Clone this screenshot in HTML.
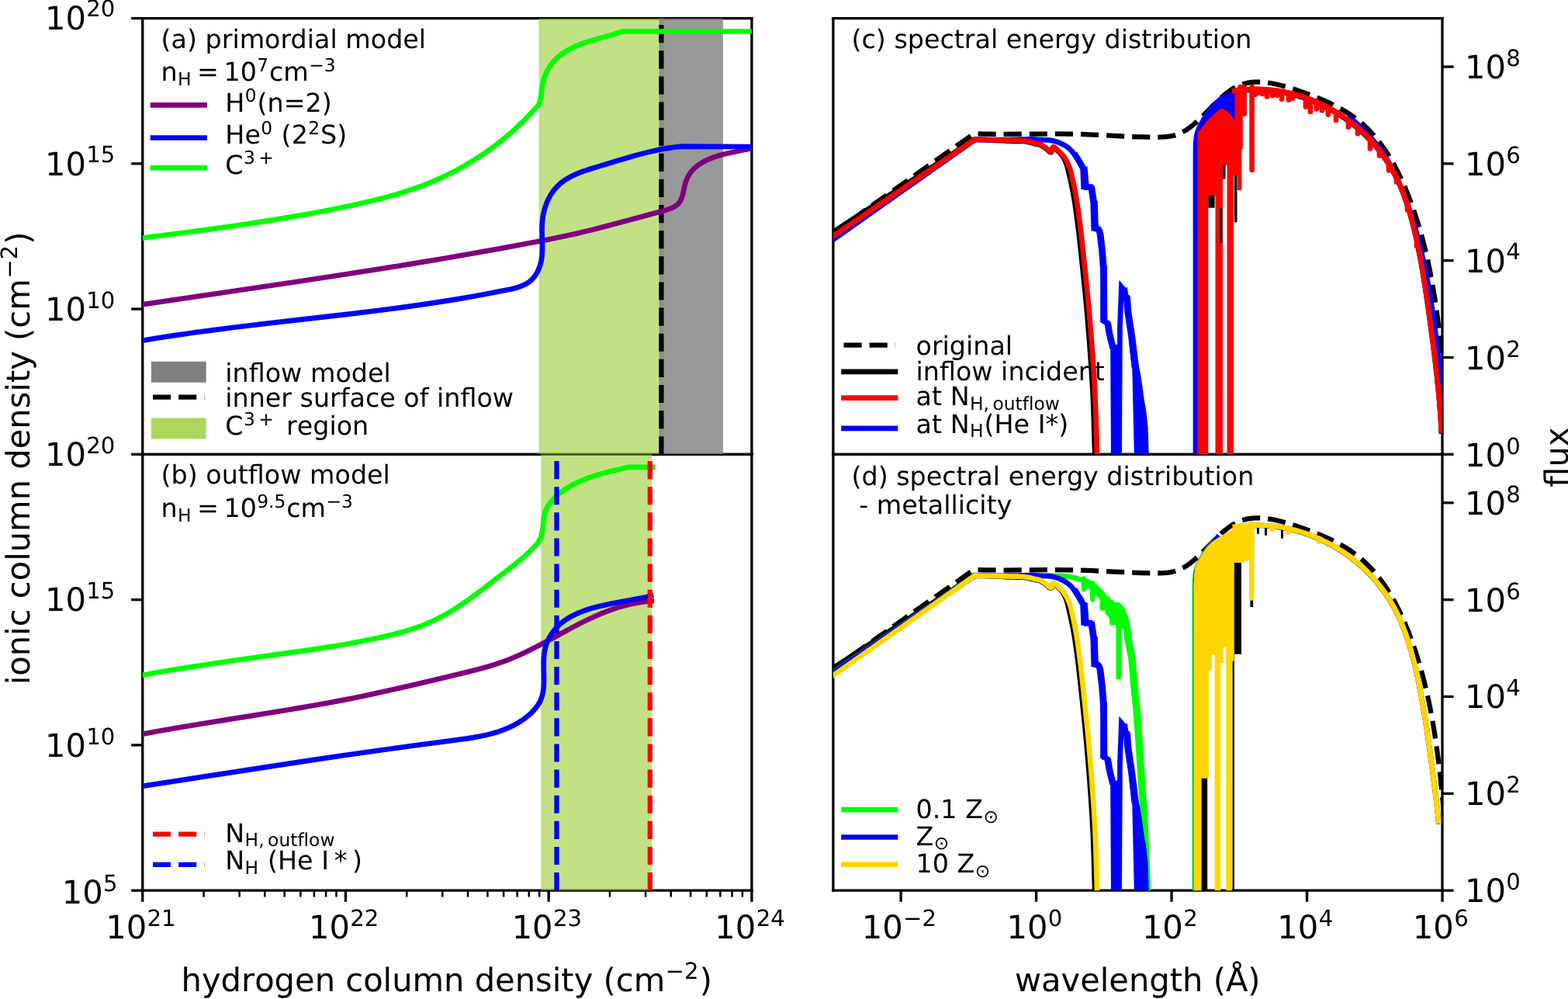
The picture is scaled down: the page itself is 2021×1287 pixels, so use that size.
<!DOCTYPE html>
<html><head><meta charset="utf-8"><title>figure</title>
<style>html,body{margin:0;padding:0;background:#fff;overflow:hidden;width:2021px;height:1287px}svg{display:block;text-rendering:geometricPrecision}</style>
</head><body>
<svg width="2021" height="1287" viewBox="0 0 2021 1287" version="1.1">
 
 <defs>
  <style type="text/css">*{stroke-linejoin: round; stroke-linecap: butt}</style>
 </defs>
 <g id="figure_1">
  <g id="patch_1">
   <path d="M 0 1287 
L 2021 1287 
L 2021 0 
L 0 0 
z
" style="fill: #ffffff"/>
  </g>
  <g id="axes_1">
   <g id="patch_2">
    <path d="M 183.75 585.3 
L 968.9 585.3 
L 968.9 23.6 
L 183.75 23.6 
z
" style="fill: #ffffff"/>
   </g>
   <g id="matplotlib.axis_1">
    <g id="xtick_1"/>
    <g id="xtick_2"/>
    <g id="xtick_3"/>
    <g id="xtick_4"/>
    <g id="xtick_5"/>
    <g id="xtick_6"/>
    <g id="xtick_7"/>
    <g id="xtick_8"/>
    <g id="xtick_9"/>
    <g id="xtick_10"/>
    <g id="xtick_11"/>
    <g id="xtick_12"/>
    <g id="xtick_13"/>
    <g id="xtick_14"/>
    <g id="xtick_15"/>
    <g id="xtick_16"/>
    <g id="xtick_17"/>
    <g id="xtick_18"/>
    <g id="xtick_19"/>
    <g id="xtick_20"/>
    <g id="xtick_21"/>
    <g id="xtick_22"/>
    <g id="xtick_23"/>
    <g id="xtick_24"/>
    <g id="xtick_25"/>
    <g id="xtick_26"/>
    <g id="xtick_27"/>
    <g id="xtick_28"/>
   </g>
   <g id="matplotlib.axis_2">
    <g id="ytick_1">
     <g id="line2d_1">
      <defs>
       <path id="m0d5c01f508" d="M 0 0 
L -14.583333 0 
" style="stroke: #000000; stroke-width: 3.333333"/>
      </defs>
      <g>
       <use href="#m0d5c01f508" x="183.75" y="398.066667" style="stroke: #000000; stroke-width: 3.333333"/>
      </g>
     </g>
    </g>
    <g id="ytick_2">
     <g id="line2d_2">
      <g>
       <use href="#m0d5c01f508" x="183.75" y="210.833333" style="stroke: #000000; stroke-width: 3.333333"/>
      </g>
     </g>
    </g>
    <g id="ytick_3">
     <g id="line2d_3">
      <g>
       <use href="#m0d5c01f508" x="183.75" y="23.6" style="stroke: #000000; stroke-width: 3.333333"/>
      </g>
     </g>
    </g>
   </g>
   <g id="patch_3">
    <path d="M 183.75 585.3 
L 183.75 23.6 
" style="fill: none; stroke: #000000; stroke-width: 3.333333; stroke-linejoin: miter; stroke-linecap: square"/>
   </g>
   <g id="patch_4">
    <path d="M 968.9 585.3 
L 968.9 23.6 
" style="fill: none; stroke: #000000; stroke-width: 3.333333; stroke-linejoin: miter; stroke-linecap: square"/>
   </g>
   <g id="patch_5">
    <path d="M 183.75 585.3 
L 968.9 585.3 
" style="fill: none; stroke: #000000; stroke-width: 3.333333; stroke-linejoin: miter; stroke-linecap: square"/>
   </g>
   <g id="patch_6">
    <path d="M 183.75 23.6 
L 968.9 23.6 
" style="fill: none; stroke: #000000; stroke-width: 3.333333; stroke-linejoin: miter; stroke-linecap: square"/>
   </g>
  </g>
  <g id="axes_2">
   <g id="patch_7">
    <path d="M 183.75 1147.2 
L 968.9 1147.2 
L 968.9 585.3 
L 183.75 585.3 
z
" style="fill: #ffffff"/>
   </g>
   <g id="matplotlib.axis_3">
    <g id="xtick_29">
     <g id="line2d_4">
      <defs>
       <path id="m4a9a91e16e" d="M 0 0 
L 0 14.583333 
" style="stroke: #000000; stroke-width: 3.333333"/>
      </defs>
      <g>
       <use href="#m4a9a91e16e" x="183.75" y="1147.2" style="stroke: #000000; stroke-width: 3.333333"/>
      </g>
     </g>
    </g>
    <g id="xtick_30">
     <g id="line2d_5">
      <g>
       <use href="#m4a9a91e16e" x="445.466667" y="1147.2" style="stroke: #000000; stroke-width: 3.333333"/>
      </g>
     </g>
    </g>
    <g id="xtick_31">
     <g id="line2d_6">
      <g>
       <use href="#m4a9a91e16e" x="707.183333" y="1147.2" style="stroke: #000000; stroke-width: 3.333333"/>
      </g>
     </g>
    </g>
    <g id="xtick_32">
     <g id="line2d_7">
      <g>
       <use href="#m4a9a91e16e" x="968.9" y="1147.2" style="stroke: #000000; stroke-width: 3.333333"/>
      </g>
     </g>
    </g>
    <g id="xtick_33">
     <g id="line2d_8">
      <defs>
       <path id="m3741921f57" d="M 0 0 
L 0 8.333333 
" style="stroke: #000000; stroke-width: 2.5"/>
      </defs>
      <g>
       <use href="#m3741921f57" x="262.534567" y="1147.2" style="stroke: #000000; stroke-width: 2.5"/>
      </g>
     </g>
    </g>
    <g id="xtick_34">
     <g id="line2d_9">
      <g>
       <use href="#m3741921f57" x="308.620584" y="1147.2" style="stroke: #000000; stroke-width: 2.5"/>
      </g>
     </g>
    </g>
    <g id="xtick_35">
     <g id="line2d_10">
      <g>
       <use href="#m3741921f57" x="341.319134" y="1147.2" style="stroke: #000000; stroke-width: 2.5"/>
      </g>
     </g>
    </g>
    <g id="xtick_36">
     <g id="line2d_11">
      <g>
       <use href="#m3741921f57" x="366.6821" y="1147.2" style="stroke: #000000; stroke-width: 2.5"/>
      </g>
     </g>
    </g>
    <g id="xtick_37">
     <g id="line2d_12">
      <g>
       <use href="#m3741921f57" x="387.405151" y="1147.2" style="stroke: #000000; stroke-width: 2.5"/>
      </g>
     </g>
    </g>
    <g id="xtick_38">
     <g id="line2d_13">
      <g>
       <use href="#m3741921f57" x="404.926242" y="1147.2" style="stroke: #000000; stroke-width: 2.5"/>
      </g>
     </g>
    </g>
    <g id="xtick_39">
     <g id="line2d_14">
      <g>
       <use href="#m3741921f57" x="420.103701" y="1147.2" style="stroke: #000000; stroke-width: 2.5"/>
      </g>
     </g>
    </g>
    <g id="xtick_40">
     <g id="line2d_15">
      <g>
       <use href="#m3741921f57" x="433.491169" y="1147.2" style="stroke: #000000; stroke-width: 2.5"/>
      </g>
     </g>
    </g>
    <g id="xtick_41">
     <g id="line2d_16">
      <g>
       <use href="#m3741921f57" x="524.251234" y="1147.2" style="stroke: #000000; stroke-width: 2.5"/>
      </g>
     </g>
    </g>
    <g id="xtick_42">
     <g id="line2d_17">
      <g>
       <use href="#m3741921f57" x="570.337251" y="1147.2" style="stroke: #000000; stroke-width: 2.5"/>
      </g>
     </g>
    </g>
    <g id="xtick_43">
     <g id="line2d_18">
      <g>
       <use href="#m3741921f57" x="603.035801" y="1147.2" style="stroke: #000000; stroke-width: 2.5"/>
      </g>
     </g>
    </g>
    <g id="xtick_44">
     <g id="line2d_19">
      <g>
       <use href="#m3741921f57" x="628.398766" y="1147.2" style="stroke: #000000; stroke-width: 2.5"/>
      </g>
     </g>
    </g>
    <g id="xtick_45">
     <g id="line2d_20">
      <g>
       <use href="#m3741921f57" x="649.121818" y="1147.2" style="stroke: #000000; stroke-width: 2.5"/>
      </g>
     </g>
    </g>
    <g id="xtick_46">
     <g id="line2d_21">
      <g>
       <use href="#m3741921f57" x="666.642909" y="1147.2" style="stroke: #000000; stroke-width: 2.5"/>
      </g>
     </g>
    </g>
    <g id="xtick_47">
     <g id="line2d_22">
      <g>
       <use href="#m3741921f57" x="681.820368" y="1147.2" style="stroke: #000000; stroke-width: 2.5"/>
      </g>
     </g>
    </g>
    <g id="xtick_48">
     <g id="line2d_23">
      <g>
       <use href="#m3741921f57" x="695.207835" y="1147.2" style="stroke: #000000; stroke-width: 2.5"/>
      </g>
     </g>
    </g>
    <g id="xtick_49">
     <g id="line2d_24">
      <g>
       <use href="#m3741921f57" x="785.9679" y="1147.2" style="stroke: #000000; stroke-width: 2.5"/>
      </g>
     </g>
    </g>
    <g id="xtick_50">
     <g id="line2d_25">
      <g>
       <use href="#m3741921f57" x="832.053918" y="1147.2" style="stroke: #000000; stroke-width: 2.5"/>
      </g>
     </g>
    </g>
    <g id="xtick_51">
     <g id="line2d_26">
      <g>
       <use href="#m3741921f57" x="864.752467" y="1147.2" style="stroke: #000000; stroke-width: 2.5"/>
      </g>
     </g>
    </g>
    <g id="xtick_52">
     <g id="line2d_27">
      <g>
       <use href="#m3741921f57" x="890.115433" y="1147.2" style="stroke: #000000; stroke-width: 2.5"/>
      </g>
     </g>
    </g>
    <g id="xtick_53">
     <g id="line2d_28">
      <g>
       <use href="#m3741921f57" x="910.838485" y="1147.2" style="stroke: #000000; stroke-width: 2.5"/>
      </g>
     </g>
    </g>
    <g id="xtick_54">
     <g id="line2d_29">
      <g>
       <use href="#m3741921f57" x="928.359575" y="1147.2" style="stroke: #000000; stroke-width: 2.5"/>
      </g>
     </g>
    </g>
    <g id="xtick_55">
     <g id="line2d_30">
      <g>
       <use href="#m3741921f57" x="943.537034" y="1147.2" style="stroke: #000000; stroke-width: 2.5"/>
      </g>
     </g>
    </g>
    <g id="xtick_56">
     <g id="line2d_31">
      <g>
       <use href="#m3741921f57" x="956.924502" y="1147.2" style="stroke: #000000; stroke-width: 2.5"/>
      </g>
     </g>
    </g>
   </g>
   <g id="matplotlib.axis_4">
    <g id="ytick_4">
     <g id="line2d_32">
      <g>
       <use href="#m0d5c01f508" x="183.75" y="1147.2" style="stroke: #000000; stroke-width: 3.333333"/>
      </g>
     </g>
    </g>
    <g id="ytick_5">
     <g id="line2d_33">
      <g>
       <use href="#m0d5c01f508" x="183.75" y="959.9" style="stroke: #000000; stroke-width: 3.333333"/>
      </g>
     </g>
    </g>
    <g id="ytick_6">
     <g id="line2d_34">
      <g>
       <use href="#m0d5c01f508" x="183.75" y="772.6" style="stroke: #000000; stroke-width: 3.333333"/>
      </g>
     </g>
    </g>
    <g id="ytick_7">
     <g id="line2d_35">
      <g>
       <use href="#m0d5c01f508" x="183.75" y="585.3" style="stroke: #000000; stroke-width: 3.333333"/>
      </g>
     </g>
    </g>
   </g>
   <g id="patch_8">
    <path d="M 183.75 1147.2 
L 183.75 585.3 
" style="fill: none; stroke: #000000; stroke-width: 3.333333; stroke-linejoin: miter; stroke-linecap: square"/>
   </g>
   <g id="patch_9">
    <path d="M 968.9 1147.2 
L 968.9 585.3 
" style="fill: none; stroke: #000000; stroke-width: 3.333333; stroke-linejoin: miter; stroke-linecap: square"/>
   </g>
   <g id="patch_10">
    <path d="M 183.75 1147.2 
L 968.9 1147.2 
" style="fill: none; stroke: #000000; stroke-width: 3.333333; stroke-linejoin: miter; stroke-linecap: square"/>
   </g>
   <g id="patch_11">
    <path d="M 183.75 585.3 
L 968.9 585.3 
" style="fill: none; stroke: #000000; stroke-width: 3.333333; stroke-linejoin: miter; stroke-linecap: square"/>
   </g>
  </g>
  <g id="axes_3">
   <g id="patch_12">
    <path d="M 1073.9 585.3 
L 1859 585.3 
L 1859 23.6 
L 1073.9 23.6 
z
" style="fill: #ffffff"/>
   </g>
   <g id="matplotlib.axis_5">
    <g id="xtick_57"/>
    <g id="xtick_58"/>
    <g id="xtick_59"/>
    <g id="xtick_60"/>
    <g id="xtick_61"/>
   </g>
   <g id="matplotlib.axis_6">
    <g id="ytick_8">
     <g id="line2d_36">
      <defs>
       <path id="m287aa8a8d9" d="M 0 0 
L 14.583333 0 
" style="stroke: #000000; stroke-width: 3.333333"/>
      </defs>
      <g>
       <use href="#m287aa8a8d9" x="1859" y="585.3" style="stroke: #000000; stroke-width: 3.333333"/>
      </g>
     </g>
    </g>
    <g id="ytick_9">
     <g id="line2d_37">
      <g>
       <use href="#m287aa8a8d9" x="1859" y="460.477778" style="stroke: #000000; stroke-width: 3.333333"/>
      </g>
     </g>
    </g>
    <g id="ytick_10">
     <g id="line2d_38">
      <g>
       <use href="#m287aa8a8d9" x="1859" y="335.655556" style="stroke: #000000; stroke-width: 3.333333"/>
      </g>
     </g>
    </g>
    <g id="ytick_11">
     <g id="line2d_39">
      <g>
       <use href="#m287aa8a8d9" x="1859" y="210.833333" style="stroke: #000000; stroke-width: 3.333333"/>
      </g>
     </g>
    </g>
    <g id="ytick_12">
     <g id="line2d_40">
      <g>
       <use href="#m287aa8a8d9" x="1859" y="86.011111" style="stroke: #000000; stroke-width: 3.333333"/>
      </g>
     </g>
    </g>
   </g>
   <g id="patch_13">
    <path d="M 1073.9 585.3 
L 1073.9 23.6 
" style="fill: none; stroke: #000000; stroke-width: 3.333333; stroke-linejoin: miter; stroke-linecap: square"/>
   </g>
   <g id="patch_14">
    <path d="M 1859 585.3 
L 1859 23.6 
" style="fill: none; stroke: #000000; stroke-width: 3.333333; stroke-linejoin: miter; stroke-linecap: square"/>
   </g>
   <g id="patch_15">
    <path d="M 1073.9 585.3 
L 1859 585.3 
" style="fill: none; stroke: #000000; stroke-width: 3.333333; stroke-linejoin: miter; stroke-linecap: square"/>
   </g>
   <g id="patch_16">
    <path d="M 1073.9 23.6 
L 1859 23.6 
" style="fill: none; stroke: #000000; stroke-width: 3.333333; stroke-linejoin: miter; stroke-linecap: square"/>
   </g>
  </g>
  <g id="axes_4">
   <g id="patch_17">
    <path d="M 1073.9 1147.2 
L 1859 1147.2 
L 1859 585.3 
L 1073.9 585.3 
z
" style="fill: #ffffff"/>
   </g>
   <g id="matplotlib.axis_7">
    <g id="xtick_62">
     <g id="line2d_41">
      <g>
       <use href="#m4a9a91e16e" x="1161.133333" y="1147.2" style="stroke: #000000; stroke-width: 3.333333"/>
      </g>
     </g>
    </g>
    <g id="xtick_63">
     <g id="line2d_42">
      <g>
       <use href="#m4a9a91e16e" x="1335.6" y="1147.2" style="stroke: #000000; stroke-width: 3.333333"/>
      </g>
     </g>
    </g>
    <g id="xtick_64">
     <g id="line2d_43">
      <g>
       <use href="#m4a9a91e16e" x="1510.066667" y="1147.2" style="stroke: #000000; stroke-width: 3.333333"/>
      </g>
     </g>
    </g>
    <g id="xtick_65">
     <g id="line2d_44">
      <g>
       <use href="#m4a9a91e16e" x="1684.533333" y="1147.2" style="stroke: #000000; stroke-width: 3.333333"/>
      </g>
     </g>
    </g>
    <g id="xtick_66">
     <g id="line2d_45">
      <g>
       <use href="#m4a9a91e16e" x="1859" y="1147.2" style="stroke: #000000; stroke-width: 3.333333"/>
      </g>
     </g>
    </g>
   </g>
   <g id="matplotlib.axis_8">
    <g id="ytick_13">
     <g id="line2d_46">
      <g>
       <use href="#m287aa8a8d9" x="1859" y="1147.2" style="stroke: #000000; stroke-width: 3.333333"/>
      </g>
     </g>
    </g>
    <g id="ytick_14">
     <g id="line2d_47">
      <g>
       <use href="#m287aa8a8d9" x="1859" y="1022.333333" style="stroke: #000000; stroke-width: 3.333333"/>
      </g>
     </g>
    </g>
    <g id="ytick_15">
     <g id="line2d_48">
      <g>
       <use href="#m287aa8a8d9" x="1859" y="897.466667" style="stroke: #000000; stroke-width: 3.333333"/>
      </g>
     </g>
    </g>
    <g id="ytick_16">
     <g id="line2d_49">
      <g>
       <use href="#m287aa8a8d9" x="1859" y="772.6" style="stroke: #000000; stroke-width: 3.333333"/>
      </g>
     </g>
    </g>
    <g id="ytick_17">
     <g id="line2d_50">
      <g>
       <use href="#m287aa8a8d9" x="1859" y="647.733333" style="stroke: #000000; stroke-width: 3.333333"/>
      </g>
     </g>
    </g>
   </g>
   <g id="patch_18">
    <path d="M 1073.9 1147.2 
L 1073.9 585.3 
" style="fill: none; stroke: #000000; stroke-width: 3.333333; stroke-linejoin: miter; stroke-linecap: square"/>
   </g>
   <g id="patch_19">
    <path d="M 1859 1147.2 
L 1859 585.3 
" style="fill: none; stroke: #000000; stroke-width: 3.333333; stroke-linejoin: miter; stroke-linecap: square"/>
   </g>
   <g id="patch_20">
    <path d="M 1073.9 1147.2 
L 1859 1147.2 
" style="fill: none; stroke: #000000; stroke-width: 3.333333; stroke-linejoin: miter; stroke-linecap: square"/>
   </g>
   <g id="patch_21">
    <path d="M 1073.9 585.3 
L 1859 585.3 
" style="fill: none; stroke: #000000; stroke-width: 3.333333; stroke-linejoin: miter; stroke-linecap: square"/>
   </g>
  </g>
  <g id="text_1">
   <!-- $\mathdefault{10^{20}}$ -->
   <g transform="translate(57.916667 37.6)">
    <text>
     <tspan x="0" y="-0.101562" style="font-size: 41.666667px; font-family: 'DejaVu Sans', sans-serif">1</tspan>
     <tspan x="26.483093" y="-0.101562" style="font-size: 41.666667px; font-family: 'DejaVu Sans', sans-serif">0</tspan>
     <tspan x="53.36814" y="-16.179688" style="font-size: 29.166667px; font-family: 'DejaVu Sans', sans-serif">2</tspan>
     <tspan x="71.906305" y="-16.179688" style="font-size: 29.166667px; font-family: 'DejaVu Sans', sans-serif">0</tspan>
    </text>
   </g>
  </g>
  <g id="text_2">
   <!-- $\mathdefault{10^{15}}$ -->
   <g transform="translate(57.916667 226.033333)">
    <text>
     <tspan x="0" y="-0.484375" style="font-size: 41.666667px; font-family: 'DejaVu Sans', sans-serif">1</tspan>
     <tspan x="26.483093" y="-0.484375" style="font-size: 41.666667px; font-family: 'DejaVu Sans', sans-serif">0</tspan>
     <tspan x="53.36814" y="-16.5625" style="font-size: 29.166667px; font-family: 'DejaVu Sans', sans-serif">1</tspan>
     <tspan x="71.906305" y="-16.5625" style="font-size: 29.166667px; font-family: 'DejaVu Sans', sans-serif">5</tspan>
    </text>
   </g>
  </g>
  <g id="text_3">
   <!-- $\mathdefault{10^{10}}$ -->
   <g transform="translate(57.916667 413.266667)">
    <text>
     <tspan x="0" y="-0.101562" style="font-size: 41.666667px; font-family: 'DejaVu Sans', sans-serif">1</tspan>
     <tspan x="26.483093" y="-0.101562" style="font-size: 41.666667px; font-family: 'DejaVu Sans', sans-serif">0</tspan>
     <tspan x="53.36814" y="-16.179688" style="font-size: 29.166667px; font-family: 'DejaVu Sans', sans-serif">1</tspan>
     <tspan x="71.906305" y="-16.179688" style="font-size: 29.166667px; font-family: 'DejaVu Sans', sans-serif">0</tspan>
    </text>
   </g>
  </g>
  <g id="text_4">
   <!-- $\mathdefault{10^{20}}$ -->
   <g transform="translate(57.916667 600.5)">
    <text>
     <tspan x="0" y="-0.101562" style="font-size: 41.666667px; font-family: 'DejaVu Sans', sans-serif">1</tspan>
     <tspan x="26.483093" y="-0.101562" style="font-size: 41.666667px; font-family: 'DejaVu Sans', sans-serif">0</tspan>
     <tspan x="53.36814" y="-16.179688" style="font-size: 29.166667px; font-family: 'DejaVu Sans', sans-serif">2</tspan>
     <tspan x="71.906305" y="-16.179688" style="font-size: 29.166667px; font-family: 'DejaVu Sans', sans-serif">0</tspan>
    </text>
   </g>
  </g>
  <g id="text_5">
   <!-- $\mathdefault{10^{15}}$ -->
   <g transform="translate(57.916667 787.733333)">
    <text>
     <tspan x="0" y="-0.484375" style="font-size: 41.666667px; font-family: 'DejaVu Sans', sans-serif">1</tspan>
     <tspan x="26.483093" y="-0.484375" style="font-size: 41.666667px; font-family: 'DejaVu Sans', sans-serif">0</tspan>
     <tspan x="53.36814" y="-16.5625" style="font-size: 29.166667px; font-family: 'DejaVu Sans', sans-serif">1</tspan>
     <tspan x="71.906305" y="-16.5625" style="font-size: 29.166667px; font-family: 'DejaVu Sans', sans-serif">5</tspan>
    </text>
   </g>
  </g>
  <g id="text_6">
   <!-- $\mathdefault{10^{10}}$ -->
   <g transform="translate(57.916667 974.966667)">
    <text>
     <tspan x="0" y="-0.101562" style="font-size: 41.666667px; font-family: 'DejaVu Sans', sans-serif">1</tspan>
     <tspan x="26.483093" y="-0.101562" style="font-size: 41.666667px; font-family: 'DejaVu Sans', sans-serif">0</tspan>
     <tspan x="53.36814" y="-16.179688" style="font-size: 29.166667px; font-family: 'DejaVu Sans', sans-serif">1</tspan>
     <tspan x="71.906305" y="-16.179688" style="font-size: 29.166667px; font-family: 'DejaVu Sans', sans-serif">0</tspan>
    </text>
   </g>
  </g>
  <g id="text_7">
   <!-- $\mathdefault{10^{5}}$ -->
   <g transform="translate(79.666667 1164.1)">
    <text>
     <tspan x="0" y="-0.484375" style="font-size: 41.666667px; font-family: 'DejaVu Sans', sans-serif">1</tspan>
     <tspan x="26.483093" y="-0.484375" style="font-size: 41.666667px; font-family: 'DejaVu Sans', sans-serif">0</tspan>
     <tspan x="53.36814" y="-16.5625" style="font-size: 29.166667px; font-family: 'DejaVu Sans', sans-serif">5</tspan>
    </text>
   </g>
  </g>
  <g id="text_8">
   <!-- $\mathdefault{10^{8}}$ -->
   <g transform="translate(1888 101.411111)">
    <text>
     <tspan x="0" y="-0.101562" style="font-size: 41.666667px; font-family: 'DejaVu Sans', sans-serif">1</tspan>
     <tspan x="26.483093" y="-0.101562" style="font-size: 41.666667px; font-family: 'DejaVu Sans', sans-serif">0</tspan>
     <tspan x="53.36814" y="-16.179688" style="font-size: 29.166667px; font-family: 'DejaVu Sans', sans-serif">8</tspan>
    </text>
   </g>
  </g>
  <g id="text_9">
   <!-- $\mathdefault{10^{8}}$ -->
   <g transform="translate(1888 663.111111)">
    <text>
     <tspan x="0" y="-0.101562" style="font-size: 41.666667px; font-family: 'DejaVu Sans', sans-serif">1</tspan>
     <tspan x="26.483093" y="-0.101562" style="font-size: 41.666667px; font-family: 'DejaVu Sans', sans-serif">0</tspan>
     <tspan x="53.36814" y="-16.179688" style="font-size: 29.166667px; font-family: 'DejaVu Sans', sans-serif">8</tspan>
    </text>
   </g>
  </g>
  <g id="text_10">
   <!-- $\mathdefault{10^{6}}$ -->
   <g transform="translate(1888 226.233333)">
    <text>
     <tspan x="0" y="-0.101562" style="font-size: 41.666667px; font-family: 'DejaVu Sans', sans-serif">1</tspan>
     <tspan x="26.483093" y="-0.101562" style="font-size: 41.666667px; font-family: 'DejaVu Sans', sans-serif">0</tspan>
     <tspan x="53.36814" y="-16.179688" style="font-size: 29.166667px; font-family: 'DejaVu Sans', sans-serif">6</tspan>
    </text>
   </g>
  </g>
  <g id="text_11">
   <!-- $\mathdefault{10^{6}}$ -->
   <g transform="translate(1888 787.933333)">
    <text>
     <tspan x="0" y="-0.101562" style="font-size: 41.666667px; font-family: 'DejaVu Sans', sans-serif">1</tspan>
     <tspan x="26.483093" y="-0.101562" style="font-size: 41.666667px; font-family: 'DejaVu Sans', sans-serif">0</tspan>
     <tspan x="53.36814" y="-16.179688" style="font-size: 29.166667px; font-family: 'DejaVu Sans', sans-serif">6</tspan>
    </text>
   </g>
  </g>
  <g id="text_12">
   <!-- $\mathdefault{10^{4}}$ -->
   <g transform="translate(1888 351.055556)">
    <text>
     <tspan x="0" y="-0.484375" style="font-size: 41.666667px; font-family: 'DejaVu Sans', sans-serif">1</tspan>
     <tspan x="26.483093" y="-0.484375" style="font-size: 41.666667px; font-family: 'DejaVu Sans', sans-serif">0</tspan>
     <tspan x="53.36814" y="-16.5625" style="font-size: 29.166667px; font-family: 'DejaVu Sans', sans-serif">4</tspan>
    </text>
   </g>
  </g>
  <g id="text_13">
   <!-- $\mathdefault{10^{4}}$ -->
   <g transform="translate(1888 912.755556)">
    <text>
     <tspan x="0" y="-0.484375" style="font-size: 41.666667px; font-family: 'DejaVu Sans', sans-serif">1</tspan>
     <tspan x="26.483093" y="-0.484375" style="font-size: 41.666667px; font-family: 'DejaVu Sans', sans-serif">0</tspan>
     <tspan x="53.36814" y="-16.5625" style="font-size: 29.166667px; font-family: 'DejaVu Sans', sans-serif">4</tspan>
    </text>
   </g>
  </g>
  <g id="text_14">
   <!-- $\mathdefault{10^{2}}$ -->
   <g transform="translate(1888 475.877778)">
    <text>
     <tspan x="0" y="-0.101562" style="font-size: 41.666667px; font-family: 'DejaVu Sans', sans-serif">1</tspan>
     <tspan x="26.483093" y="-0.101562" style="font-size: 41.666667px; font-family: 'DejaVu Sans', sans-serif">0</tspan>
     <tspan x="53.36814" y="-16.179688" style="font-size: 29.166667px; font-family: 'DejaVu Sans', sans-serif">2</tspan>
    </text>
   </g>
  </g>
  <g id="text_15">
   <!-- $\mathdefault{10^{2}}$ -->
   <g transform="translate(1888 1037.577778)">
    <text>
     <tspan x="0" y="-0.101562" style="font-size: 41.666667px; font-family: 'DejaVu Sans', sans-serif">1</tspan>
     <tspan x="26.483093" y="-0.101562" style="font-size: 41.666667px; font-family: 'DejaVu Sans', sans-serif">0</tspan>
     <tspan x="53.36814" y="-16.179688" style="font-size: 29.166667px; font-family: 'DejaVu Sans', sans-serif">2</tspan>
    </text>
   </g>
  </g>
  <g id="text_16">
   <!-- $\mathdefault{10^{0}}$ -->
   <g transform="translate(1888 600.7)">
    <text>
     <tspan x="0" y="-0.101562" style="font-size: 41.666667px; font-family: 'DejaVu Sans', sans-serif">1</tspan>
     <tspan x="26.483093" y="-0.101562" style="font-size: 41.666667px; font-family: 'DejaVu Sans', sans-serif">0</tspan>
     <tspan x="53.36814" y="-16.179688" style="font-size: 29.166667px; font-family: 'DejaVu Sans', sans-serif">0</tspan>
    </text>
   </g>
  </g>
  <g id="text_17">
   <!-- $\mathdefault{10^{0}}$ -->
   <g transform="translate(1888 1162.4)">
    <text>
     <tspan x="0" y="-0.101562" style="font-size: 41.666667px; font-family: 'DejaVu Sans', sans-serif">1</tspan>
     <tspan x="26.483093" y="-0.101562" style="font-size: 41.666667px; font-family: 'DejaVu Sans', sans-serif">0</tspan>
     <tspan x="53.36814" y="-16.179688" style="font-size: 29.166667px; font-family: 'DejaVu Sans', sans-serif">0</tspan>
    </text>
   </g>
  </g>
  <g id="text_18">
   <!-- $\mathdefault{10^{21}}$ -->
   <g transform="translate(136.208333 1209.2)">
    <text>
     <tspan x="0" y="-0.101562" style="font-size: 41.666667px; font-family: 'DejaVu Sans', sans-serif">1</tspan>
     <tspan x="26.483093" y="-0.101562" style="font-size: 41.666667px; font-family: 'DejaVu Sans', sans-serif">0</tspan>
     <tspan x="53.36814" y="-16.179688" style="font-size: 29.166667px; font-family: 'DejaVu Sans', sans-serif">2</tspan>
     <tspan x="71.906305" y="-16.179688" style="font-size: 29.166667px; font-family: 'DejaVu Sans', sans-serif">1</tspan>
    </text>
   </g>
  </g>
  <g id="text_19">
   <!-- $\mathdefault{10^{22}}$ -->
   <g transform="translate(397.925 1209.2)">
    <text>
     <tspan x="0" y="-0.101562" style="font-size: 41.666667px; font-family: 'DejaVu Sans', sans-serif">1</tspan>
     <tspan x="26.483093" y="-0.101562" style="font-size: 41.666667px; font-family: 'DejaVu Sans', sans-serif">0</tspan>
     <tspan x="53.36814" y="-16.179688" style="font-size: 29.166667px; font-family: 'DejaVu Sans', sans-serif">2</tspan>
     <tspan x="71.906305" y="-16.179688" style="font-size: 29.166667px; font-family: 'DejaVu Sans', sans-serif">2</tspan>
    </text>
   </g>
  </g>
  <g id="text_20">
   <!-- $\mathdefault{10^{23}}$ -->
   <g transform="translate(659.641667 1209.2)">
    <text>
     <tspan x="0" y="-0.101562" style="font-size: 41.666667px; font-family: 'DejaVu Sans', sans-serif">1</tspan>
     <tspan x="26.483093" y="-0.101562" style="font-size: 41.666667px; font-family: 'DejaVu Sans', sans-serif">0</tspan>
     <tspan x="53.36814" y="-16.179688" style="font-size: 29.166667px; font-family: 'DejaVu Sans', sans-serif">2</tspan>
     <tspan x="71.906305" y="-16.179688" style="font-size: 29.166667px; font-family: 'DejaVu Sans', sans-serif">3</tspan>
    </text>
   </g>
  </g>
  <g id="text_21">
   <!-- $\mathdefault{10^{24}}$ -->
   <g transform="translate(921.358333 1209.2)">
    <text>
     <tspan x="0" y="-0.101562" style="font-size: 41.666667px; font-family: 'DejaVu Sans', sans-serif">1</tspan>
     <tspan x="26.483093" y="-0.101562" style="font-size: 41.666667px; font-family: 'DejaVu Sans', sans-serif">0</tspan>
     <tspan x="53.36814" y="-16.179688" style="font-size: 29.166667px; font-family: 'DejaVu Sans', sans-serif">2</tspan>
     <tspan x="71.906305" y="-16.179688" style="font-size: 29.166667px; font-family: 'DejaVu Sans', sans-serif">4</tspan>
    </text>
   </g>
  </g>
  <g id="text_22">
   <!-- $\mathdefault{10^{-2}}$ -->
   <g transform="translate(1110.675 1209.2)">
    <text>
     <tspan x="0" y="-0.101562" style="font-size: 41.666667px; font-family: 'DejaVu Sans', sans-serif">1</tspan>
     <tspan x="26.483093" y="-0.101562" style="font-size: 41.666667px; font-family: 'DejaVu Sans', sans-serif">0</tspan>
     <tspan x="53.36814" y="-16.179688" style="font-size: 29.166667px; font-family: 'DejaVu Sans', sans-serif">−</tspan>
     <tspan x="77.782178" y="-16.179688" style="font-size: 29.166667px; font-family: 'DejaVu Sans', sans-serif">2</tspan>
    </text>
   </g>
  </g>
  <g id="text_23">
   <!-- $\mathdefault{10^{0}}$ -->
   <g transform="translate(1297.433333 1209.2)">
    <text>
     <tspan x="0" y="-0.101562" style="font-size: 41.666667px; font-family: 'DejaVu Sans', sans-serif">1</tspan>
     <tspan x="26.483093" y="-0.101562" style="font-size: 41.666667px; font-family: 'DejaVu Sans', sans-serif">0</tspan>
     <tspan x="53.36814" y="-16.179688" style="font-size: 29.166667px; font-family: 'DejaVu Sans', sans-serif">0</tspan>
    </text>
   </g>
  </g>
  <g id="text_24">
   <!-- $\mathdefault{10^{2}}$ -->
   <g transform="translate(1471.9 1209.2)">
    <text>
     <tspan x="0" y="-0.101562" style="font-size: 41.666667px; font-family: 'DejaVu Sans', sans-serif">1</tspan>
     <tspan x="26.483093" y="-0.101562" style="font-size: 41.666667px; font-family: 'DejaVu Sans', sans-serif">0</tspan>
     <tspan x="53.36814" y="-16.179688" style="font-size: 29.166667px; font-family: 'DejaVu Sans', sans-serif">2</tspan>
    </text>
   </g>
  </g>
  <g id="text_25">
   <!-- $\mathdefault{10^{4}}$ -->
   <g transform="translate(1646.366667 1209.2)">
    <text>
     <tspan x="0" y="-0.484375" style="font-size: 41.666667px; font-family: 'DejaVu Sans', sans-serif">1</tspan>
     <tspan x="26.483093" y="-0.484375" style="font-size: 41.666667px; font-family: 'DejaVu Sans', sans-serif">0</tspan>
     <tspan x="53.36814" y="-16.5625" style="font-size: 29.166667px; font-family: 'DejaVu Sans', sans-serif">4</tspan>
    </text>
   </g>
  </g>
  <g id="text_26">
   <!-- $\mathdefault{10^{6}}$ -->
   <g transform="translate(1820.833333 1209.2)">
    <text>
     <tspan x="0" y="-0.101562" style="font-size: 41.666667px; font-family: 'DejaVu Sans', sans-serif">1</tspan>
     <tspan x="26.483093" y="-0.101562" style="font-size: 41.666667px; font-family: 'DejaVu Sans', sans-serif">0</tspan>
     <tspan x="53.36814" y="-16.179688" style="font-size: 29.166667px; font-family: 'DejaVu Sans', sans-serif">6</tspan>
    </text>
   </g>
  </g>
  <g id="text_27">
   <text style="font-size: 33.333333px; font-family: 'DejaVu Sans', sans-serif; text-anchor: start" x="207.5" y="61.9" transform="rotate(-0 207.5 61.9)">(a) primordial model</text>
  </g>
  <g id="text_28">
   <!-- $\mathrm{n_H = 10^7 cm^{-3}}$ -->
   <g transform="translate(207.5 104.6)">
    <text>
     <tspan x="0" y="-0.217188" style="font-size: 33.333333px; font-family: 'DejaVu Sans', sans-serif">n</tspan>
     <tspan x="46.440637" y="-0.217188" style="font-size: 33.333333px; font-family: 'DejaVu Sans', sans-serif">=</tspan>
     <tspan x="80.907495" y="-0.217188" style="font-size: 33.333333px; font-family: 'DejaVu Sans', sans-serif">1</tspan>
     <tspan x="102.141687" y="-0.217188" style="font-size: 33.333333px; font-family: 'DejaVu Sans', sans-serif">0</tspan>
     <tspan x="139.457977" y="-0.217188" style="font-size: 33.333333px; font-family: 'DejaVu Sans', sans-serif">c</tspan>
     <tspan x="157.807709" y="-0.217188" style="font-size: 33.333333px; font-family: 'DejaVu Sans', sans-serif">m</tspan>
     <tspan x="21.46853" y="5.196875" style="font-size: 23.333333px; font-family: 'DejaVu Sans', sans-serif">H</tspan>
     <tspan x="123.691699" y="-12.85" style="font-size: 23.333333px; font-family: 'DejaVu Sans', sans-serif">7</tspan>
     <tspan x="190.634821" y="-12.85" style="font-size: 23.333333px; font-family: 'DejaVu Sans', sans-serif">−</tspan>
     <tspan x="210.21004" y="-12.85" style="font-size: 23.333333px; font-family: 'DejaVu Sans', sans-serif">3</tspan>
    </text>
   </g>
  </g>
  <g id="text_29">
   <text style="font-size: 33.333333px; font-family: 'DejaVu Sans', sans-serif; text-anchor: start" x="207.5" y="623.2" transform="rotate(-0 207.5 623.2)">(b) outflow model</text>
  </g>
  <g id="text_30">
   <!-- $\mathrm{n_H = 10^{9.5} cm^{-3}}$ -->
   <g transform="translate(207.5 666.4)">
    <text>
     <tspan x="0" y="-0.217188" style="font-size: 33.333333px; font-family: 'DejaVu Sans', sans-serif">n</tspan>
     <tspan x="46.440637" y="-0.217188" style="font-size: 33.333333px; font-family: 'DejaVu Sans', sans-serif">=</tspan>
     <tspan x="80.907495" y="-0.217188" style="font-size: 33.333333px; font-family: 'DejaVu Sans', sans-serif">1</tspan>
     <tspan x="102.141687" y="-0.217188" style="font-size: 33.333333px; font-family: 'DejaVu Sans', sans-serif">0</tspan>
     <tspan x="161.748175" y="-0.217188" style="font-size: 33.333333px; font-family: 'DejaVu Sans', sans-serif">c</tspan>
     <tspan x="180.097906" y="-0.217188" style="font-size: 33.333333px; font-family: 'DejaVu Sans', sans-serif">m</tspan>
     <tspan x="21.46853" y="5.196875" style="font-size: 23.333333px; font-family: 'DejaVu Sans', sans-serif">H</tspan>
     <tspan x="123.691699" y="-12.85" style="font-size: 23.333333px; font-family: 'DejaVu Sans', sans-serif">9</tspan>
     <tspan x="138.555634" y="-12.85" style="font-size: 23.333333px; font-family: 'DejaVu Sans', sans-serif">.</tspan>
     <tspan x="145.981897" y="-12.85" style="font-size: 23.333333px; font-family: 'DejaVu Sans', sans-serif">5</tspan>
     <tspan x="212.925018" y="-12.85" style="font-size: 23.333333px; font-family: 'DejaVu Sans', sans-serif">−</tspan>
     <tspan x="232.500238" y="-12.85" style="font-size: 23.333333px; font-family: 'DejaVu Sans', sans-serif">3</tspan>
    </text>
   </g>
  </g>
  <g id="text_31">
   <text style="font-size: 33.333333px; font-family: 'DejaVu Sans', sans-serif; text-anchor: start" x="1097.5" y="62" transform="rotate(-0 1097.5 62)">(c) spectral energy distribution</text>
  </g>
  <g id="text_32">
   <text style="font-size: 33.333333px; font-family: 'DejaVu Sans', sans-serif; text-anchor: start" x="1097.5" y="625" transform="rotate(-0 1097.5 625)">(d) spectral energy distribution</text>
  </g>
  <g id="text_33">
   <text style="font-size: 33.333333px; font-family: 'DejaVu Sans', sans-serif; text-anchor: start" x="1107.2" y="661.8" transform="rotate(-0 1107.2 661.8)">- metallicity</text>
  </g>
  <g id="text_34">
   <!-- hydrogen column density (cm$^{-2}$) -->
   <g transform="translate(233.591667 1277)">
    <text>
     <tspan x="0" y="-0.101562" style="font-size: 41.666667px; font-family: 'DejaVu Sans', sans-serif">h</tspan>
     <tspan x="26.38147" y="-0.101562" style="font-size: 41.666667px; font-family: 'DejaVu Sans', sans-serif">y</tspan>
     <tspan x="51.015015" y="-0.101562" style="font-size: 41.666667px; font-family: 'DejaVu Sans', sans-serif">d</tspan>
     <tspan x="77.437134" y="-0.101562" style="font-size: 41.666667px; font-family: 'DejaVu Sans', sans-serif">r</tspan>
     <tspan x="94.550537" y="-0.101562" style="font-size: 41.666667px; font-family: 'DejaVu Sans', sans-serif">o</tspan>
     <tspan x="120.017395" y="-0.101562" style="font-size: 41.666667px; font-family: 'DejaVu Sans', sans-serif">g</tspan>
     <tspan x="146.439514" y="-0.101562" style="font-size: 41.666667px; font-family: 'DejaVu Sans', sans-serif">e</tspan>
     <tspan x="172.048645" y="-0.101562" style="font-size: 41.666667px; font-family: 'DejaVu Sans', sans-serif">n</tspan>
     <tspan x="198.430115" y="-0.101562" style="font-size: 41.666667px; font-family: 'DejaVu Sans', sans-serif"> </tspan>
     <tspan x="211.661499" y="-0.101562" style="font-size: 41.666667px; font-family: 'DejaVu Sans', sans-serif">c</tspan>
     <tspan x="234.547119" y="-0.101562" style="font-size: 41.666667px; font-family: 'DejaVu Sans', sans-serif">o</tspan>
     <tspan x="260.013977" y="-0.101562" style="font-size: 41.666667px; font-family: 'DejaVu Sans', sans-serif">l</tspan>
     <tspan x="271.578735" y="-0.101562" style="font-size: 41.666667px; font-family: 'DejaVu Sans', sans-serif">u</tspan>
     <tspan x="297.960205" y="-0.101562" style="font-size: 41.666667px; font-family: 'DejaVu Sans', sans-serif">m</tspan>
     <tspan x="338.507996" y="-0.101562" style="font-size: 41.666667px; font-family: 'DejaVu Sans', sans-serif">n</tspan>
     <tspan x="364.889465" y="-0.101562" style="font-size: 41.666667px; font-family: 'DejaVu Sans', sans-serif"> </tspan>
     <tspan x="378.12085" y="-0.101562" style="font-size: 41.666667px; font-family: 'DejaVu Sans', sans-serif">d</tspan>
     <tspan x="404.542969" y="-0.101562" style="font-size: 41.666667px; font-family: 'DejaVu Sans', sans-serif">e</tspan>
     <tspan x="430.1521" y="-0.101562" style="font-size: 41.666667px; font-family: 'DejaVu Sans', sans-serif">n</tspan>
     <tspan x="456.533569" y="-0.101562" style="font-size: 41.666667px; font-family: 'DejaVu Sans', sans-serif">s</tspan>
     <tspan x="478.220032" y="-0.101562" style="font-size: 41.666667px; font-family: 'DejaVu Sans', sans-serif">i</tspan>
     <tspan x="489.78479" y="-0.101562" style="font-size: 41.666667px; font-family: 'DejaVu Sans', sans-serif">t</tspan>
     <tspan x="506.10553" y="-0.101562" style="font-size: 41.666667px; font-family: 'DejaVu Sans', sans-serif">y</tspan>
     <tspan x="530.739075" y="-0.101562" style="font-size: 41.666667px; font-family: 'DejaVu Sans', sans-serif"> </tspan>
     <tspan x="543.970459" y="-0.101562" style="font-size: 41.666667px; font-family: 'DejaVu Sans', sans-serif">(</tspan>
     <tspan x="560.2099" y="-0.101562" style="font-size: 41.666667px; font-family: 'DejaVu Sans', sans-serif">c</tspan>
     <tspan x="583.09552" y="-0.101562" style="font-size: 41.666667px; font-family: 'DejaVu Sans', sans-serif">m</tspan>
     <tspan x="668.145905" y="-0.101562" style="font-size: 41.666667px; font-family: 'DejaVu Sans', sans-serif">)</tspan>
     <tspan x="624.045264" y="-16.179688" style="font-size: 29.166667px; font-family: 'DejaVu Sans', sans-serif">−</tspan>
     <tspan x="648.459302" y="-16.179688" style="font-size: 29.166667px; font-family: 'DejaVu Sans', sans-serif">2</tspan>
    </text>
   </g>
  </g>
  <g id="text_35">
   <!-- wavelength ($\mathrm{\AA}$) -->
   <g transform="translate(1307.958333 1277)">
    <text>
     <tspan x="0" y="-0.015625" style="font-size: 41.666667px; font-family: 'DejaVu Sans', sans-serif">w</tspan>
     <tspan x="34.043884" y="-0.015625" style="font-size: 41.666667px; font-family: 'DejaVu Sans', sans-serif">a</tspan>
     <tspan x="59.551392" y="-0.015625" style="font-size: 41.666667px; font-family: 'DejaVu Sans', sans-serif">v</tspan>
     <tspan x="84.184937" y="-0.015625" style="font-size: 41.666667px; font-family: 'DejaVu Sans', sans-serif">e</tspan>
     <tspan x="109.794067" y="-0.015625" style="font-size: 41.666667px; font-family: 'DejaVu Sans', sans-serif">l</tspan>
     <tspan x="121.358826" y="-0.015625" style="font-size: 41.666667px; font-family: 'DejaVu Sans', sans-serif">e</tspan>
     <tspan x="146.967957" y="-0.015625" style="font-size: 41.666667px; font-family: 'DejaVu Sans', sans-serif">n</tspan>
     <tspan x="173.349426" y="-0.015625" style="font-size: 41.666667px; font-family: 'DejaVu Sans', sans-serif">g</tspan>
     <tspan x="199.771545" y="-0.015625" style="font-size: 41.666667px; font-family: 'DejaVu Sans', sans-serif">t</tspan>
     <tspan x="216.092285" y="-0.015625" style="font-size: 41.666667px; font-family: 'DejaVu Sans', sans-serif">h</tspan>
     <tspan x="242.473755" y="-0.015625" style="font-size: 41.666667px; font-family: 'DejaVu Sans', sans-serif"> </tspan>
     <tspan x="255.705139" y="-0.015625" style="font-size: 41.666667px; font-family: 'DejaVu Sans', sans-serif">(</tspan>
     <tspan x="271.94458" y="-0.015625" style="font-size: 41.666667px; font-family: 'DejaVu Sans', sans-serif">Å</tspan>
     <tspan x="300.419495" y="-0.015625" style="font-size: 41.666667px; font-family: 'DejaVu Sans', sans-serif">)</tspan>
    </text>
   </g>
  </g>
  <g id="text_36">
   <!-- ionic column density (cm$^{-2}$) -->
   <g transform="translate(38 882.291667) rotate(-90)">
    <text>
     <tspan x="0" y="-0.101562" style="font-size: 41.666667px; font-family: 'DejaVu Sans', sans-serif">i</tspan>
     <tspan x="11.564758" y="-0.101562" style="font-size: 41.666667px; font-family: 'DejaVu Sans', sans-serif">o</tspan>
     <tspan x="37.031616" y="-0.101562" style="font-size: 41.666667px; font-family: 'DejaVu Sans', sans-serif">n</tspan>
     <tspan x="63.413086" y="-0.101562" style="font-size: 41.666667px; font-family: 'DejaVu Sans', sans-serif">i</tspan>
     <tspan x="74.977844" y="-0.101562" style="font-size: 41.666667px; font-family: 'DejaVu Sans', sans-serif">c</tspan>
     <tspan x="97.863464" y="-0.101562" style="font-size: 41.666667px; font-family: 'DejaVu Sans', sans-serif"> </tspan>
     <tspan x="111.094849" y="-0.101562" style="font-size: 41.666667px; font-family: 'DejaVu Sans', sans-serif">c</tspan>
     <tspan x="133.980469" y="-0.101562" style="font-size: 41.666667px; font-family: 'DejaVu Sans', sans-serif">o</tspan>
     <tspan x="159.447327" y="-0.101562" style="font-size: 41.666667px; font-family: 'DejaVu Sans', sans-serif">l</tspan>
     <tspan x="171.012085" y="-0.101562" style="font-size: 41.666667px; font-family: 'DejaVu Sans', sans-serif">u</tspan>
     <tspan x="197.393555" y="-0.101562" style="font-size: 41.666667px; font-family: 'DejaVu Sans', sans-serif">m</tspan>
     <tspan x="237.941345" y="-0.101562" style="font-size: 41.666667px; font-family: 'DejaVu Sans', sans-serif">n</tspan>
     <tspan x="264.322815" y="-0.101562" style="font-size: 41.666667px; font-family: 'DejaVu Sans', sans-serif"> </tspan>
     <tspan x="277.554199" y="-0.101562" style="font-size: 41.666667px; font-family: 'DejaVu Sans', sans-serif">d</tspan>
     <tspan x="303.976318" y="-0.101562" style="font-size: 41.666667px; font-family: 'DejaVu Sans', sans-serif">e</tspan>
     <tspan x="329.585449" y="-0.101562" style="font-size: 41.666667px; font-family: 'DejaVu Sans', sans-serif">n</tspan>
     <tspan x="355.966919" y="-0.101562" style="font-size: 41.666667px; font-family: 'DejaVu Sans', sans-serif">s</tspan>
     <tspan x="377.653381" y="-0.101562" style="font-size: 41.666667px; font-family: 'DejaVu Sans', sans-serif">i</tspan>
     <tspan x="389.21814" y="-0.101562" style="font-size: 41.666667px; font-family: 'DejaVu Sans', sans-serif">t</tspan>
     <tspan x="405.538879" y="-0.101562" style="font-size: 41.666667px; font-family: 'DejaVu Sans', sans-serif">y</tspan>
     <tspan x="430.172424" y="-0.101562" style="font-size: 41.666667px; font-family: 'DejaVu Sans', sans-serif"> </tspan>
     <tspan x="443.403809" y="-0.101562" style="font-size: 41.666667px; font-family: 'DejaVu Sans', sans-serif">(</tspan>
     <tspan x="459.64325" y="-0.101562" style="font-size: 41.666667px; font-family: 'DejaVu Sans', sans-serif">c</tspan>
     <tspan x="482.52887" y="-0.101562" style="font-size: 41.666667px; font-family: 'DejaVu Sans', sans-serif">m</tspan>
     <tspan x="567.579254" y="-0.101562" style="font-size: 41.666667px; font-family: 'DejaVu Sans', sans-serif">)</tspan>
     <tspan x="523.478613" y="-16.179688" style="font-size: 29.166667px; font-family: 'DejaVu Sans', sans-serif">−</tspan>
     <tspan x="547.892651" y="-16.179688" style="font-size: 29.166667px; font-family: 'DejaVu Sans', sans-serif">2</tspan>
    </text>
   </g>
  </g>
  <g id="text_37">
   <text style="font-size: 41.666667px; font-family: 'DejaVu Sans', sans-serif; text-anchor: middle" x="2021" y="589" transform="rotate(-90 2021 589)">flux</text>
  </g>
  <g id="text_38">
   <!-- H$^0$(n=2) -->
   <g transform="translate(290.3 144.2)">
    <text>
     <tspan x="0" y="-0.217188" style="font-size: 33.333333px; font-family: 'DejaVu Sans', sans-serif">H</tspan>
     <tspan x="41.178534" y="-0.217188" style="font-size: 33.333333px; font-family: 'DejaVu Sans', sans-serif">(</tspan>
     <tspan x="54.199347" y="-0.217188" style="font-size: 33.333333px; font-family: 'DejaVu Sans', sans-serif">n</tspan>
     <tspan x="75.352057" y="-0.217188" style="font-size: 33.333333px; font-family: 'DejaVu Sans', sans-serif">=</tspan>
     <tspan x="103.316656" y="-0.217188" style="font-size: 33.333333px; font-family: 'DejaVu Sans', sans-serif">2</tspan>
     <tspan x="124.550848" y="-0.217188" style="font-size: 33.333333px; font-family: 'DejaVu Sans', sans-serif">)</tspan>
     <tspan x="25.412256" y="-12.85" style="font-size: 23.333333px; font-family: 'DejaVu Sans', sans-serif">0</tspan>
    </text>
   </g>
  </g>
  <g id="text_39">
   <!-- He$^0$ (2$^2$S) -->
   <g transform="translate(290.3 185.4)">
    <text>
     <tspan x="0" y="-0.217188" style="font-size: 33.333333px; font-family: 'DejaVu Sans', sans-serif">H</tspan>
     <tspan x="25.096436" y="-0.217188" style="font-size: 33.333333px; font-family: 'DejaVu Sans', sans-serif">e</tspan>
     <tspan x="61.711981" y="-0.217188" style="font-size: 33.333333px; font-family: 'DejaVu Sans', sans-serif"> </tspan>
     <tspan x="72.320929" y="-0.217188" style="font-size: 33.333333px; font-family: 'DejaVu Sans', sans-serif">(</tspan>
     <tspan x="85.341742" y="-0.217188" style="font-size: 33.333333px; font-family: 'DejaVu Sans', sans-serif">2</tspan>
     <tspan x="122.658032" y="-0.217188" style="font-size: 33.333333px; font-family: 'DejaVu Sans', sans-serif">S</tspan>
     <tspan x="143.843335" y="-0.217188" style="font-size: 33.333333px; font-family: 'DejaVu Sans', sans-serif">)</tspan>
     <tspan x="45.945703" y="-12.85" style="font-size: 23.333333px; font-family: 'DejaVu Sans', sans-serif">0</tspan>
     <tspan x="106.891754" y="-12.85" style="font-size: 23.333333px; font-family: 'DejaVu Sans', sans-serif">2</tspan>
    </text>
   </g>
  </g>
  <g id="text_40">
   <!-- C$^{3+}$ -->
   <g transform="translate(290.3 224.3)">
    <text>
     <tspan x="0" y="-0.217188" style="font-size: 33.333333px; font-family: 'DejaVu Sans', sans-serif">C</tspan>
     <tspan x="23.619653" y="-12.85" style="font-size: 23.333333px; font-family: 'DejaVu Sans', sans-serif">3</tspan>
     <tspan x="43.035168" y="-12.85" style="font-size: 23.333333px; font-family: 'DejaVu Sans', sans-serif">+</tspan>
    </text>
   </g>
  </g>
  <g id="text_41">
   <text style="font-size: 33.333333px; font-family: 'DejaVu Sans', sans-serif; text-anchor: start" x="290.3" y="491.5" transform="rotate(-0 290.3 491.5)">inflow model</text>
  </g>
  <g id="text_42">
   <text style="font-size: 33.333333px; font-family: 'DejaVu Sans', sans-serif; text-anchor: start" x="290.3" y="523.6" transform="rotate(-0 290.3 523.6)">inner surface of inflow</text>
  </g>
  <g id="text_43">
   <!-- C$^{3+}$ region -->
   <g transform="translate(290.3 560.4)">
    <text>
     <tspan x="0" y="-0.217188" style="font-size: 33.333333px; font-family: 'DejaVu Sans', sans-serif">C</tspan>
     <tspan x="68.064313" y="-0.217188" style="font-size: 33.333333px; font-family: 'DejaVu Sans', sans-serif"> </tspan>
     <tspan x="78.67326" y="-0.217188" style="font-size: 33.333333px; font-family: 'DejaVu Sans', sans-serif">r</tspan>
     <tspan x="92.394818" y="-0.217188" style="font-size: 33.333333px; font-family: 'DejaVu Sans', sans-serif">e</tspan>
     <tspan x="112.928265" y="-0.217188" style="font-size: 33.333333px; font-family: 'DejaVu Sans', sans-serif">g</tspan>
     <tspan x="134.113568" y="-0.217188" style="font-size: 33.333333px; font-family: 'DejaVu Sans', sans-serif">i</tspan>
     <tspan x="143.386212" y="-0.217188" style="font-size: 33.333333px; font-family: 'DejaVu Sans', sans-serif">o</tspan>
     <tspan x="163.805585" y="-0.217188" style="font-size: 33.333333px; font-family: 'DejaVu Sans', sans-serif">n</tspan>
     <tspan x="23.619653" y="-12.85" style="font-size: 23.333333px; font-family: 'DejaVu Sans', sans-serif">3</tspan>
     <tspan x="43.035168" y="-12.85" style="font-size: 23.333333px; font-family: 'DejaVu Sans', sans-serif">+</tspan>
    </text>
   </g>
  </g>
  <g id="text_44">
   <!-- $\mathrm{N_{H,outflow}}$ -->
   <g transform="translate(290.3 1085.6)">
    <text>
     <tspan x="0" y="-0.9375" style="font-size: 33.333333px; font-family: 'DejaVu Sans', sans-serif">N</tspan>
     <tspan x="25.281885" y="4.476562" style="font-size: 23.333333px; font-family: 'DejaVu Sans', sans-serif">H</tspan>
     <tspan x="42.84939" y="4.476562" style="font-size: 23.333333px; font-family: 'DejaVu Sans', sans-serif">,</tspan>
     <tspan x="54.827234" y="4.476562" style="font-size: 23.333333px; font-family: 'DejaVu Sans', sans-serif">o</tspan>
     <tspan x="69.120795" y="4.476562" style="font-size: 23.333333px; font-family: 'DejaVu Sans', sans-serif">u</tspan>
     <tspan x="83.927692" y="4.476562" style="font-size: 23.333333px; font-family: 'DejaVu Sans', sans-serif">t</tspan>
     <tspan x="93.087891" y="4.476562" style="font-size: 23.333333px; font-family: 'DejaVu Sans', sans-serif">f</tspan>
     <tspan x="101.312677" y="4.476562" style="font-size: 23.333333px; font-family: 'DejaVu Sans', sans-serif">l</tspan>
     <tspan x="107.803528" y="4.476562" style="font-size: 23.333333px; font-family: 'DejaVu Sans', sans-serif">o</tspan>
     <tspan x="122.097089" y="4.476562" style="font-size: 23.333333px; font-family: 'DejaVu Sans', sans-serif">w</tspan>
    </text>
   </g>
  </g>
  <g id="text_45">
   <!-- $\mathrm{N_H\ (He\ I*)}$ -->
   <g transform="translate(290.3 1121.2)">
    <text>
     <tspan x="0" y="-0.953125" style="font-size: 33.333333px; font-family: 'DejaVu Sans', sans-serif">N</tspan>
     <tspan x="54.588722" y="-0.953125" style="font-size: 33.333333px; font-family: 'DejaVu Sans', sans-serif">(</tspan>
     <tspan x="67.609535" y="-0.953125" style="font-size: 33.333333px; font-family: 'DejaVu Sans', sans-serif">H</tspan>
     <tspan x="92.705971" y="-0.953125" style="font-size: 33.333333px; font-family: 'DejaVu Sans', sans-serif">e</tspan>
     <tspan x="124.076407" y="-0.953125" style="font-size: 33.333333px; font-family: 'DejaVu Sans', sans-serif">I</tspan>
     <tspan x="140.421683" y="-0.953125" style="font-size: 33.333333px; font-family: 'DejaVu Sans', sans-serif">*</tspan>
     <tspan x="163.611441" y="-0.953125" style="font-size: 33.333333px; font-family: 'DejaVu Sans', sans-serif">)</tspan>
     <tspan x="25.281885" y="4.460938" style="font-size: 23.333333px; font-family: 'DejaVu Sans', sans-serif">H</tspan>
    </text>
   </g>
  </g>
  <g id="text_46">
   <text style="font-size: 33.333333px; font-family: 'DejaVu Sans', sans-serif; text-anchor: start" x="1180.5" y="456.5" transform="rotate(-0 1180.5 456.5)">original</text>
  </g>
  <g id="text_47">
   <text style="font-size: 33.333333px; font-family: 'DejaVu Sans', sans-serif; text-anchor: start" x="1180.5" y="490.4" transform="rotate(-0 1180.5 490.4)">inflow incident</text>
  </g>
  <g id="text_48">
   <!-- at $\mathrm{N_{H,outflow}}$ -->
   <g transform="translate(1180.5 523.3)">
    <text>
     <tspan x="0" y="-0.9375" style="font-size: 33.333333px; font-family: 'DejaVu Sans', sans-serif">a</tspan>
     <tspan x="20.451965" y="-0.9375" style="font-size: 33.333333px; font-family: 'DejaVu Sans', sans-serif">t</tspan>
     <tspan x="33.537964" y="-0.9375" style="font-size: 33.333333px; font-family: 'DejaVu Sans', sans-serif"> </tspan>
     <tspan x="44.146912" y="-0.9375" style="font-size: 33.333333px; font-family: 'DejaVu Sans', sans-serif">N</tspan>
     <tspan x="69.428796" y="4.476562" style="font-size: 23.333333px; font-family: 'DejaVu Sans', sans-serif">H</tspan>
     <tspan x="86.996301" y="4.476562" style="font-size: 23.333333px; font-family: 'DejaVu Sans', sans-serif">,</tspan>
     <tspan x="98.974146" y="4.476562" style="font-size: 23.333333px; font-family: 'DejaVu Sans', sans-serif">o</tspan>
     <tspan x="113.267706" y="4.476562" style="font-size: 23.333333px; font-family: 'DejaVu Sans', sans-serif">u</tspan>
     <tspan x="128.074603" y="4.476562" style="font-size: 23.333333px; font-family: 'DejaVu Sans', sans-serif">t</tspan>
     <tspan x="137.234802" y="4.476562" style="font-size: 23.333333px; font-family: 'DejaVu Sans', sans-serif">f</tspan>
     <tspan x="145.459589" y="4.476562" style="font-size: 23.333333px; font-family: 'DejaVu Sans', sans-serif">l</tspan>
     <tspan x="151.950439" y="4.476562" style="font-size: 23.333333px; font-family: 'DejaVu Sans', sans-serif">o</tspan>
     <tspan x="166.244" y="4.476562" style="font-size: 23.333333px; font-family: 'DejaVu Sans', sans-serif">w</tspan>
    </text>
   </g>
  </g>
  <g id="text_49">
   <!-- at $\mathrm{N_H}$(He I*) -->
   <g transform="translate(1180.5 558.9)">
    <text>
     <tspan x="0" y="-0.953125" style="font-size: 33.333333px; font-family: 'DejaVu Sans', sans-serif">a</tspan>
     <tspan x="20.451965" y="-0.953125" style="font-size: 33.333333px; font-family: 'DejaVu Sans', sans-serif">t</tspan>
     <tspan x="33.537964" y="-0.953125" style="font-size: 33.333333px; font-family: 'DejaVu Sans', sans-serif"> </tspan>
     <tspan x="44.146912" y="-0.953125" style="font-size: 33.333333px; font-family: 'DejaVu Sans', sans-serif">N</tspan>
     <tspan x="87.898645" y="-0.953125" style="font-size: 33.333333px; font-family: 'DejaVu Sans', sans-serif">(</tspan>
     <tspan x="100.919458" y="-0.953125" style="font-size: 33.333333px; font-family: 'DejaVu Sans', sans-serif">H</tspan>
     <tspan x="126.015894" y="-0.953125" style="font-size: 33.333333px; font-family: 'DejaVu Sans', sans-serif">e</tspan>
     <tspan x="146.549341" y="-0.953125" style="font-size: 33.333333px; font-family: 'DejaVu Sans', sans-serif"> </tspan>
     <tspan x="157.158289" y="-0.953125" style="font-size: 33.333333px; font-family: 'DejaVu Sans', sans-serif">I</tspan>
     <tspan x="167.001306" y="-0.953125" style="font-size: 33.333333px; font-family: 'DejaVu Sans', sans-serif">*</tspan>
     <tspan x="183.688806" y="-0.953125" style="font-size: 33.333333px; font-family: 'DejaVu Sans', sans-serif">)</tspan>
     <tspan x="69.428796" y="4.460938" style="font-size: 23.333333px; font-family: 'DejaVu Sans', sans-serif">H</tspan>
    </text>
   </g>
  </g>
  <g id="text_50">
   <!-- 0.1 $\mathrm{Z_\odot}$ -->
   <g transform="translate(1180.5 1054.7)">
    <text>
     <tspan x="0" y="-0.5" style="font-size: 33.333333px; font-family: 'DejaVu Sans', sans-serif">0</tspan>
     <tspan x="21.234192" y="-0.5" style="font-size: 33.333333px; font-family: 'DejaVu Sans', sans-serif">.</tspan>
     <tspan x="31.84314" y="-0.5" style="font-size: 33.333333px; font-family: 'DejaVu Sans', sans-serif">1</tspan>
     <tspan x="53.077332" y="-0.5" style="font-size: 33.333333px; font-family: 'DejaVu Sans', sans-serif"> </tspan>
     <tspan x="63.686279" y="-0.5" style="font-size: 33.333333px; font-family: 'DejaVu Sans', sans-serif">Z</tspan>
     <tspan x="86.9175" y="4.914062" style="font-size: 23.333333px; font-family: 'DejaVu Sans', sans-serif">⊙</tspan>
    </text>
   </g>
  </g>
  <g id="text_51">
   <!-- $\mathrm{Z_\odot}$ -->
   <g transform="translate(1180.5 1089.5)">
    <text>
     <tspan x="0" y="-0.9375" style="font-size: 33.333333px; font-family: 'DejaVu Sans', sans-serif">Z</tspan>
     <tspan x="23.2312" y="4.476562" style="font-size: 23.333333px; font-family: 'DejaVu Sans', sans-serif">⊙</tspan>
    </text>
   </g>
  </g>
  <g id="text_52">
   <!-- 10 $\mathrm{Z_\odot}$ -->
   <g transform="translate(1180.5 1124.9)">
    <text>
     <tspan x="0" y="-0.5" style="font-size: 33.333333px; font-family: 'DejaVu Sans', sans-serif">1</tspan>
     <tspan x="21.234192" y="-0.5" style="font-size: 33.333333px; font-family: 'DejaVu Sans', sans-serif">0</tspan>
     <tspan x="42.468384" y="-0.5" style="font-size: 33.333333px; font-family: 'DejaVu Sans', sans-serif"> </tspan>
     <tspan x="53.077332" y="-0.5" style="font-size: 33.333333px; font-family: 'DejaVu Sans', sans-serif">Z</tspan>
     <tspan x="76.3086" y="4.914062" style="font-size: 23.333333px; font-family: 'DejaVu Sans', sans-serif">⊙</tspan>
    </text>
   </g>
  </g>
  <g id="axes_5">
   <g id="patch_22">
    <path d="M 194.9 465.7 
L 265.7 465.7 
L 265.7 492.7 
L 194.9 492.7 
z
" clip-path="url(#p86c49984c7)" style="fill: #808080"/>
   </g>
   <g id="patch_23">
    <path d="M 194.9 538.5 
L 265.7 538.5 
L 265.7 565.5 
L 194.9 565.5 
z
" clip-path="url(#p86c49984c7)" style="fill: #9acd32; opacity: 0.8"/>
   </g>
   <g id="patch_24">
    <path d="M 694.6 23.6 
L 855.6 23.6 
L 855.6 585.3 
L 694.6 585.3 
z
" clip-path="url(#pf287960431)" style="fill: #9acd32; opacity: 0.6"/>
   </g>
   <g id="patch_25">
    <path d="M 697.2 585.3 
L 840.1 585.3 
L 840.1 1147.2 
L 697.2 1147.2 
z
" clip-path="url(#pe2dc18fa2c)" style="fill: #9acd32; opacity: 0.6"/>
   </g>
   <g id="patch_26">
    <path d="M 849.5 23.6 
L 932 23.6 
L 932 585.3 
L 849.5 585.3 
z
" clip-path="url(#pf287960431)" style="fill: #808080; opacity: 0.8"/>
   </g>
   <g id="line2d_51">
    <path d="M 852.4 585.3 
L 852.4 23.6 
" clip-path="url(#pf287960431)" style="fill: none; stroke-dasharray: 23.125,10; stroke-dashoffset: 0; stroke: #000000; stroke-width: 6.25"/>
   </g>
   <g id="line2d_52">
    <path d="M 197 135.4 
L 263.6 135.4 
" style="fill: none; stroke: #800080; stroke-width: 6.666667; stroke-linecap: square"/>
   </g>
   <g id="line2d_53">
    <path d="M 197 177.5 
L 263.6 177.5 
" style="fill: none; stroke: #0000ff; stroke-width: 6.666667; stroke-linecap: square"/>
   </g>
   <g id="line2d_54">
    <path d="M 197 216.1 
L 263.6 216.1 
" style="fill: none; stroke: #00ff00; stroke-width: 6.666667; stroke-linecap: square"/>
   </g>
   <g id="line2d_55">
    <path d="M 197 511.5 
L 263.6 511.5 
" style="fill: none; stroke-dasharray: 23.125,10; stroke-dashoffset: 0; stroke: #000000; stroke-width: 6.25"/>
   </g>
   <g id="line2d_56">
    <path d="M 197 1074.5 
L 263.6 1074.5 
" style="fill: none; stroke-dasharray: 23.125,10; stroke-dashoffset: 0; stroke: #ff0000; stroke-width: 6.25"/>
   </g>
   <g id="line2d_57">
    <path d="M 197 1113.8 
L 263.6 1113.8 
" style="fill: none; stroke-dasharray: 23.125,10; stroke-dashoffset: 0; stroke: #0000ff; stroke-width: 6.25"/>
   </g>
   <g id="line2d_58">
    <path d="M 1087.5 444.6 
L 1154 444.6 
" style="fill: none; stroke-dasharray: 23.125,10; stroke-dashoffset: 0; stroke: #000000; stroke-width: 6.25"/>
   </g>
   <g id="line2d_59">
    <path d="M 1087.5 478.8 
L 1154 478.8 
" style="fill: none; stroke: #000000; stroke-width: 6.666667; stroke-linecap: square"/>
   </g>
   <g id="line2d_60">
    <path d="M 1087.5 512.6 
L 1154 512.6 
" style="fill: none; stroke: #ff0000; stroke-width: 6.666667; stroke-linecap: square"/>
   </g>
   <g id="line2d_61">
    <path d="M 1087.5 551.8 
L 1154 551.8 
" style="fill: none; stroke: #0000ff; stroke-width: 6.666667; stroke-linecap: square"/>
   </g>
   <g id="line2d_62">
    <path d="M 1087.5 1043.2 
L 1154 1043.2 
" style="fill: none; stroke: #00ff00; stroke-width: 6.666667; stroke-linecap: square"/>
   </g>
   <g id="line2d_63">
    <path d="M 1087.5 1078.5 
L 1154 1078.5 
" style="fill: none; stroke: #0000ff; stroke-width: 6.666667; stroke-linecap: square"/>
   </g>
   <g id="line2d_64">
    <path d="M 1087.5 1113.7 
L 1154 1113.7 
" style="fill: none; stroke: #ffd700; stroke-width: 6.666667; stroke-linecap: square"/>
   </g>
   <g id="line2d_65">
    <path d="M 179.999782 392.785562 
L 280.790173 377.990032 
L 375.348194 364.030326 
L 434.543159 355.068621 
L 484.354834 347.3065 
L 528.939559 340.135642 
L 569.338638 333.418334 
L 607.626733 326.828853 
L 643.805342 320.37724 
L 677.87715 314.079521 
L 705.711551 308.726896 
L 725.238143 304.745874 
L 741.617014 301.183698 
L 755.884937 297.866774 
L 771.108378 294.093688 
L 789.340015 289.330287 
L 815.737284 282.168968 
L 850.682033 272.71139 
L 858.942527 270.454593 
L 862.907262 269.156727 
L 865.736306 268.039222 
L 868.400256 266.758185 
L 870.862003 265.277604 
L 872.372506 264.161909 
L 873.765653 262.930852 
L 875.030448 261.573764 
L 876.155896 260.079973 
L 877.13464 258.442196 
L 877.979756 256.672178 
L 879.041087 253.809413 
L 879.915452 250.752532 
L 881.142556 245.394936 
L 882.615221 238.878287 
L 883.795348 234.663877 
L 884.858945 231.641008 
L 886.116241 228.775064 
L 887.567197 226.068976 
L 889.201768 223.516969 
L 891.009908 221.113271 
L 892.981574 218.852106 
L 895.106718 216.727701 
L 897.375296 214.734282 
L 899.777263 212.866075 
L 903.170017 210.559927 
L 906.758236 208.452426 
L 910.51811 206.529887 
L 914.425828 204.778623 
L 918.457578 203.184948 
L 923.635411 201.393612 
L 928.923335 199.800393 
L 935.348681 198.112405 
L 942.853429 196.393381 
L 953.347946 194.265859 
L 968.733538 191.175723 
L 968.733538 191.175723 
" clip-path="url(#pf287960431)" style="fill: none; stroke: #800080; stroke-width: 6.666667; stroke-linecap: square"/>
   </g>
   <g id="line2d_66">
    <path d="M 179.99362 439.286123 
L 201.161321 435.792851 
L 223.334448 432.368764 
L 246.513088 429.016273 
L 271.705077 425.598267 
L 299.918137 421.999312 
L 333.167702 417.991415 
L 379.515327 412.653225 
L 454.082781 404.067352 
L 487.342624 399.998299 
L 515.567883 396.326765 
L 540.773461 392.827909 
L 563.96685 389.387661 
L 586.156101 385.867644 
L 606.332125 382.448688 
L 626.51226 378.799101 
L 645.687481 375.098881 
L 658.787231 372.396249 
L 664.708256 370.939255 
L 668.541414 369.799304 
L 672.247277 368.475878 
L 675.795037 366.927342 
L 678.33357 365.593164 
L 680.752845 364.091374 
L 683.039863 362.404408 
L 685.181799 360.515228 
L 687.171094 358.423202 
L 689.006345 356.146865 
L 690.686497 353.705837 
L 692.210496 351.11974 
L 693.57729 348.408196 
L 694.785822 345.590825 
L 695.835041 342.687251 
L 696.72389 339.717092 
L 697.657921 335.687055 
L 698.31773 331.606136 
L 698.741572 327.483684 
L 699.00171 322.282919 
L 699.036601 317.041964 
L 698.822831 308.607097 
L 698.520113 297.001792 
L 698.583169 291.758971 
L 698.880833 286.555796 
L 699.31435 282.433688 
L 699.923585 278.359277 
L 700.709744 274.343485 
L 701.674034 270.397231 
L 702.81766 266.531437 
L 704.141829 262.757023 
L 705.647747 259.08491 
L 707.336621 255.526018 
L 709.209657 252.091268 
L 711.268061 248.791581 
L 713.513039 245.637876 
L 715.945798 242.641075 
L 718.567545 239.812099 
L 721.379479 237.161858 
L 724.37886 234.69561 
L 727.552224 232.403214 
L 730.884295 230.271934 
L 734.3598 228.289032 
L 738.882615 225.999659 
L 743.575846 223.897351 
L 748.40966 221.957231 
L 754.353803 219.80815 
L 761.421429 217.493449 
L 771.610584 214.416772 
L 794.502892 207.565266 
L 814.734103 201.535209 
L 826.222527 198.343323 
L 835.849448 195.89282 
L 844.607381 193.888439 
L 852.502984 192.293221 
L 860.534432 190.896616 
L 868.73205 189.720825 
L 876.065116 188.890598 
L 879.258946 188.595429 
L 969 189 
L 969 189 
" clip-path="url(#pf287960431)" style="fill: none; stroke: #0000ff; stroke-width: 6.666667; stroke-linecap: square"/>
   </g>
   <g id="line2d_67">
    <path d="M 179.972612 307.031711 
L 239.062878 299.519594 
L 274.018162 294.861797 
L 303.391156 290.740846 
L 330.883338 286.660206 
L 356.509182 282.620793 
L 380.28028 278.637175 
L 402.205729 274.734728 
L 422.292511 270.947011 
L 442.370826 266.939419 
L 460.605737 263.069685 
L 475.1499 259.757094 
L 487.821124 256.656566 
L 500.422193 253.331416 
L 511.153601 250.276402 
L 521.808856 247.009371 
L 532.376601 243.508636 
L 541.108011 240.397187 
L 549.764189 237.095833 
L 558.338568 233.592101 
L 566.825114 229.878769 
L 575.218655 225.95719 
L 583.5141 221.829506 
L 591.706359 217.497858 
L 599.790339 212.964388 
L 607.76095 208.231238 
L 615.613101 203.300548 
L 623.341701 198.174461 
L 630.941658 192.855117 
L 638.407881 187.34466 
L 645.73528 181.645229 
L 652.918763 175.758967 
L 659.953238 169.688016 
L 666.833616 163.434516 
L 673.554804 157.00061 
L 680.111712 150.388438 
L 686.499249 143.600143 
L 692.712322 136.637867 
L 693.933553 135.224722 
L 694.263526 135.420492 
L 695.166995 132.959936 
L 696.019912 129.922262 
L 696.766789 126.283939 
L 697.470953 121.500923 
L 698.998913 110.205374 
L 699.774038 106.49724 
L 700.751776 102.851506 
L 701.927225 99.280169 
L 703.295461 95.795223 
L 704.851563 92.408663 
L 706.590609 89.132483 
L 708.507676 85.978677 
L 710.597843 82.959239 
L 712.856187 80.086163 
L 715.277715 77.371163 
L 717.855199 74.817157 
L 720.57879 72.416746 
L 723.857548 69.851251 
L 727.299158 67.464018 
L 730.888695 65.243126 
L 735.085162 62.928608 
L 739.428712 60.792552 
L 744.401539 58.607819 
L 750.016289 56.407095 
L 756.270041 54.212885 
L 763.67022 51.873154 
L 773.226395 49.114996 
L 796.745087 42.45336 
L 803.327098 40.282062 
L 969 40.5 
L 969 40.5 
" clip-path="url(#pf287960431)" style="fill: none; stroke: #00ff00; stroke-width: 6.666667; stroke-linecap: square"/>
   </g>
   <g id="line2d_68">
    <path d="M 180.022154 870.531331 
L 200.398557 866.844263 
L 222.659654 863.042726 
L 246.803229 859.146502 
L 273.712649 855.030165 
L 306.055752 850.319608 
L 350.030735 844.165095 
L 403.581933 836.651132 
L 424.928806 833.400088 
L 442.707972 830.468312 
L 458.711945 827.603028 
L 472.94708 824.838629 
L 486.306133 822.032265 
L 499.683057 818.991559 
L 510.377532 816.353791 
L 520.125996 813.720704 
L 528.903732 811.10597 
L 536.706007 808.541311 
L 543.542998 806.070993 
L 550.269396 803.401662 
L 556.051458 800.888919 
L 562.540341 797.816143 
L 568.911789 794.543458 
L 575.176115 791.086304 
L 582.10828 786.995731 
L 588.932609 782.713214 
L 596.406583 777.75648 
L 604.51917 772.097713 
L 613.269869 765.723729 
L 624.114061 757.538973 
L 645.746857 740.831955 
L 663.798116 726.816396 
L 670.847076 721.056831 
L 677.022008 715.729899 
L 682.334682 710.847476 
L 686.818695 706.438664 
L 691.120021 701.88057 
L 692.838313 699.847983 
L 694.36444 697.713874 
L 695.639644 695.451467 
L 696.683745 693.07084 
L 697.527352 690.587128 
L 698.201074 688.015466 
L 698.888011 684.475934 
L 699.509027 679.924144 
L 701.14814 666.092303 
L 701.873146 662.529526 
L 702.583748 659.935345 
L 703.47072 657.424498 
L 704.543511 655.003804 
L 705.787433 652.670598 
L 707.186414 650.421667 
L 709.265151 647.548641 
L 711.552886 644.812122 
L 714.011524 642.2045 
L 717.267122 639.114642 
L 720.667957 636.200795 
L 724.195649 633.454384 
L 727.841755 630.867952 
L 732.361495 627.964906 
L 737.024996 625.268604 
L 741.817663 622.766158 
L 746.724903 620.444681 
L 752.575356 617.947823 
L 758.538719 615.659279 
L 764.591818 613.558586 
L 771.5898 611.361561 
L 779.523379 609.113199 
L 788.356265 606.841298 
L 799.759287 604.148774 
L 810.086924 601.820777 
L 841.2 601.8 
L 841.2 601.8 
" clip-path="url(#pe2dc18fa2c)" style="fill: none; stroke: #00ff00; stroke-width: 6.666667; stroke-linecap: square"/>
   </g>
   <g id="line2d_69">
    <path d="M 183.0021 945.807593 
L 204.862439 941.785612 
L 229.288348 937.520201 
L 257.969331 932.743176 
L 297.662769 926.37812 
L 365.226353 915.558242 
L 394.736502 910.582177 
L 419.145113 906.245733 
L 440.986154 902.144501 
L 461.104428 898.144322 
L 482.016657 893.754028 
L 505.393701 888.609393 
L 532.066282 882.501331 
L 566.197315 874.441213 
L 608.608697 864.213921 
L 621.000805 860.985979 
L 630.836517 858.197614 
L 639.770204 855.424284 
L 647.80786 852.681986 
L 654.962468 850.005037 
L 662.041528 847.128989 
L 669.828408 843.725637 
L 678.311532 839.764098 
L 687.484809 835.227761 
L 698.105914 829.719741 
L 712.434761 822.014505 
L 739.576107 807.373054 
L 750.220848 801.906271 
L 759.422021 797.418599 
L 767.936905 793.51247 
L 775.757797 790.168456 
L 782.871652 787.35311 
L 790.065307 784.744533 
L 796.533439 782.617097 
L 803.077141 780.685739 
L 809.702304 778.965849 
L 816.414819 777.472819 
L 822.364555 776.364612 
L 828.389627 775.452189 
L 834.49398 774.745859 
L 839.792375 774.312283 
L 839.792375 774.312283 
" clip-path="url(#pe2dc18fa2c)" style="fill: none; stroke: #800080; stroke-width: 6.666667; stroke-linecap: square"/>
   </g>
   <g id="line2d_70">
    <path d="M 182.898613 1012.84904 
L 387.867498 981.330591 
L 440.571578 973.548342 
L 486.885012 966.930998 
L 529.680243 961.040072 
L 569.927697 955.724884 
L 600.757514 951.648549 
L 610.313509 950.140259 
L 618.828526 948.575617 
L 626.306756 946.972495 
L 632.764575 945.373197 
L 639.1291 943.562516 
L 644.500479 941.822056 
L 649.785901 939.889929 
L 654.977331 937.74935 
L 660.066732 935.383536 
L 664.224161 933.22786 
L 668.300505 930.894402 
L 672.291111 928.37345 
L 676.189599 925.655664 
L 679.964557 922.737127 
L 682.861836 920.257859 
L 685.621932 917.650347 
L 688.218883 914.914724 
L 690.626726 912.051123 
L 692.819497 909.059677 
L 694.771234 905.940521 
L 696.061238 903.517424 
L 697.190103 901.02262 
L 698.14818 898.456445 
L 698.940528 895.822377 
L 699.763981 892.214111 
L 700.352588 888.507858 
L 700.740658 884.716629 
L 700.996011 879.877915 
L 701.053944 873.958809 
L 700.87381 864.941211 
L 700.722245 854.887052 
L 700.870289 848.918388 
L 701.233776 844.020206 
L 701.72998 840.169508 
L 702.445904 836.393211 
L 703.40342 832.703241 
L 704.594649 829.108936 
L 706.007342 825.619251 
L 707.629246 822.243142 
L 709.448112 818.989563 
L 711.45169 815.867472 
L 713.627728 812.885822 
L 715.963976 810.053568 
L 718.449295 807.37638 
L 721.07585 804.850135 
L 723.83642 802.46889 
L 726.723788 800.226704 
L 730.500305 797.610472 
L 734.449561 795.19063 
L 738.557453 792.955574 
L 742.809881 790.893699 
L 747.192743 788.9934 
L 752.604498 786.909982 
L 758.159406 785.022468 
L 763.833101 783.310805 
L 770.570038 781.50937 
L 778.377127 779.6694 
L 787.228421 777.821603 
L 799.005273 775.610724 
L 823.551203 771.093294 
L 831.46007 769.387465 
L 838.126443 767.719332 
L 838.932623 767.498261 
L 838.932623 767.498261 
" clip-path="url(#pe2dc18fa2c)" style="fill: none; stroke: #0000ff; stroke-width: 6.666667; stroke-linecap: square"/>
   </g>
   <g id="line2d_71">
    <path d="M 1070 302.8 
L 1254.977852 172.36403 
L 1270.510924 172.692749 
L 1289.042871 172.827832 
L 1313.630402 172.730432 
L 1359.64431 172.457691 
L 1378.122752 172.594969 
L 1393.594324 172.926212 
L 1409.153219 173.508684 
L 1431.061443 174.624881 
L 1456.182405 175.897335 
L 1471.875 176.454235 
L 1484.399707 176.656319 
L 1493.764652 176.618 
L 1499.947638 176.41308 
L 1505.979617 175.885023 
L 1508.90861 175.446902 
L 1511.763634 174.864855 
L 1514.540367 174.130091 
L 1517.243732 173.248432 
L 1519.87921 172.226586 
L 1522.452282 171.07126 
L 1524.968429 169.78916 
L 1527.433132 168.386995 
L 1529.851873 166.871471 
L 1534.573389 163.527173 
L 1539.176826 159.809923 
L 1543.705586 155.773768 
L 1548.191833 151.482596 
L 1554.885879 144.730185 
L 1566.113518 133.256989 
L 1570.687171 128.808894 
L 1575.337741 124.553538 
L 1580.085037 120.565626 
L 1584.948873 116.919867 
L 1587.430684 115.248641 
L 1589.94906 113.690968 
L 1592.506476 112.256187 
L 1595.105409 110.953636 
L 1597.748336 109.792653 
L 1600.437481 108.781823 
L 1603.172206 107.921096 
L 1605.950046 107.20493 
L 1608.768506 106.627691 
L 1611.625093 106.183747 
L 1614.517311 105.867465 
L 1617.442668 105.673212 
L 1620.398668 105.595356 
L 1626.392622 105.766301 
L 1632.47922 106.335238 
L 1638.638509 107.257106 
L 1644.850534 108.486842 
L 1651.095344 109.979384 
L 1657.352983 111.68967 
L 1666.71985 114.564797 
L 1676.003364 117.676454 
L 1685.147111 120.917968 
L 1694.123793 124.303668 
L 1702.910917 127.867853 
L 1711.485992 131.644823 
L 1717.073796 134.297954 
L 1722.550696 137.071064 
L 1727.910026 139.974314 
L 1733.145123 143.017867 
L 1738.249323 146.211886 
L 1743.21596 149.566534 
L 1748.038371 153.091974 
L 1752.709892 156.798368 
L 1757.225746 160.692466 
L 1761.588069 164.768523 
L 1765.800577 169.017938 
L 1769.866986 173.432105 
L 1773.791014 178.002423 
L 1777.576376 182.720289 
L 1781.226789 187.5771 
L 1784.745971 192.564252 
L 1788.137636 197.673143 
L 1791.405502 202.89517 
L 1794.553286 208.22173 
L 1799.057937 216.388749 
L 1803.313306 224.742576 
L 1807.331939 233.254175 
L 1811.126378 241.894512 
L 1814.709166 250.634551 
L 1818.092846 259.445257 
L 1821.289952 268.29765 
L 1824.311312 277.171366 
L 1828.078925 289.032327 
L 1831.563274 300.926374 
L 1834.780581 312.853023 
L 1837.747069 324.811789 
L 1840.478958 336.802188 
L 1842.99247 348.823736 
L 1845.303827 360.875948 
L 1847.429251 372.95834 
L 1849.849275 388.103033 
L 1852.035808 403.293179 
L 1854.020533 418.527833 
L 1856.180425 436.866835 
L 1858.463712 458.339439 
L 1861.158815 486.065082 
L 1864.336249 520.12478 
L 1864.336249 520.12478 
" clip-path="url(#p7760dbe8b0)" style="fill: none; stroke-dasharray: 23.125,10; stroke-dashoffset: 0; stroke: #000000; stroke-width: 6.25"/>
   </g>
   <g id="line2d_72">
    <path d="M 1070 864.5 
L 1254.977852 734.06403 
L 1270.510924 734.392749 
L 1289.042871 734.527832 
L 1313.630402 734.430432 
L 1359.64431 734.157691 
L 1378.122752 734.294969 
L 1393.594324 734.626212 
L 1409.153219 735.208684 
L 1431.061443 736.324881 
L 1456.182405 737.597335 
L 1471.875 738.154235 
L 1484.399707 738.356319 
L 1493.764652 738.318 
L 1499.947638 738.11308 
L 1505.979617 737.585023 
L 1508.90861 737.146902 
L 1511.763634 736.564855 
L 1514.540367 735.830091 
L 1517.243732 734.948432 
L 1519.87921 733.926586 
L 1522.452282 732.77126 
L 1524.968429 731.48916 
L 1527.433132 730.086995 
L 1529.851873 728.571471 
L 1534.573389 725.227173 
L 1539.176826 721.509923 
L 1543.705586 717.473768 
L 1548.191833 713.182596 
L 1554.885879 706.430185 
L 1566.113518 694.956989 
L 1570.687171 690.508894 
L 1575.337741 686.253538 
L 1580.085037 682.265626 
L 1584.948873 678.619867 
L 1587.430684 676.948641 
L 1589.94906 675.390968 
L 1592.506476 673.956187 
L 1595.105409 672.653636 
L 1597.748336 671.492653 
L 1600.437481 670.481823 
L 1603.172206 669.621096 
L 1605.950046 668.90493 
L 1608.768506 668.327691 
L 1611.625093 667.883747 
L 1614.517311 667.567465 
L 1617.442668 667.373212 
L 1620.398668 667.295356 
L 1626.392622 667.466301 
L 1632.47922 668.035238 
L 1638.638509 668.957106 
L 1644.850534 670.186842 
L 1651.095344 671.679384 
L 1657.352983 673.38967 
L 1666.71985 676.264797 
L 1676.003364 679.376454 
L 1685.147111 682.617968 
L 1694.123793 686.003668 
L 1702.910917 689.567853 
L 1711.485992 693.344823 
L 1717.073796 695.997954 
L 1722.550696 698.771064 
L 1727.910026 701.674314 
L 1733.145123 704.717867 
L 1738.249323 707.911886 
L 1743.21596 711.266534 
L 1748.038371 714.791974 
L 1752.709892 718.498368 
L 1757.225746 722.392466 
L 1761.588069 726.468523 
L 1765.800577 730.717938 
L 1769.866986 735.132105 
L 1773.791014 739.702423 
L 1777.576376 744.420289 
L 1781.226789 749.2771 
L 1784.745971 754.264252 
L 1788.137636 759.373143 
L 1791.405502 764.59517 
L 1794.553286 769.92173 
L 1799.057937 778.088749 
L 1803.313306 786.442576 
L 1807.331939 794.954175 
L 1811.126378 803.594512 
L 1814.709166 812.334551 
L 1818.092846 821.145257 
L 1821.289952 829.99765 
L 1824.311312 838.871366 
L 1828.078925 850.732327 
L 1831.563274 862.626374 
L 1834.780581 874.553023 
L 1837.747069 886.511789 
L 1840.478958 898.502188 
L 1842.99247 910.523736 
L 1845.303827 922.575948 
L 1847.429251 934.65834 
L 1849.849275 949.803033 
L 1852.035808 964.993179 
L 1854.020533 980.227833 
L 1856.180425 998.566835 
L 1858.463712 1020.039439 
L 1861.158815 1047.765082 
L 1864.336249 1081.82478 
L 1864.336249 1081.82478 
" clip-path="url(#pc0f8eb2423)" style="fill: none; stroke-dasharray: 23.125,10; stroke-dashoffset: 0; stroke: #000000; stroke-width: 6.25"/>
   </g>
   <g id="line2d_73">
    <path d="M 1067.2 303.4 
L 1256.3 179.4 
L 1265.4032 179.864 
L 1274.8696 180.352 
L 1284.1544 180.828 
L 1292.7128 181.256 
L 1300 181.6 
L 1305.7648 181.7976 
L 1310.3704 181.8728 
L 1314.1936 181.9192 
L 1317.6112 182.0304 
L 1321 182.3 
L 1324.392 182.8 
L 1327.536 183.468 
L 1330.384 184.196 
L 1332.888 184.876 
L 1335 185.4 
L 1336.5264 185.6736 
L 1337.4992 185.7688 
L 1338.2088 185.8272 
L 1338.9456 185.9904 
L 1340 186.4 
L 1341.4472 187.112 
L 1343.0936 188.032 
L 1344.8264 189.076 
L 1346.5328 190.16 
L 1348.1 191.2 
L 1349.5568 192.3832 
L 1350.9784 193.7656 
L 1352.3216 195.0664 
L 1353.520262 196.0048 
L 1354.544 196.3 
L 1355.3656 195.5712 
L 1355.8688 194.0056 
L 1356.2992 192.1744 
L 1356.8464 190.6488 
L 1357.7 190 
L 1358.9416 190.396 
L 1360.4448 191.456 
L 1362.0872 192.928 
L 1363.7464 194.56 
L 1365.2664 196.1 
L 1366.561146 197.5112 
L 1367.832301 198.9616 
L 1369.066483 200.5064 
L 1370.25031 202.2008 
L 1371.3704 204.1 
L 1372.443622 206.2248 
L 1373.478899 208.5384 
L 1374.450925 211.0096 
L 1375.334394 213.6072 
L 1376.104 216.3 
L 1376.728486 219.0528 
L 1377.3464 221.8864 
L 1378.0936 224.8536 
L 1378.8272 228.0072 
L 1379.6 231.4 
L 1380.428 235.1136 
L 1381.276 239.1128 
L 1382.12 243.2752 
L 1382.936 247.4784 
L 1383.7 251.6 
L 1384.3896 255.4992 
L 1385.0208 259.2576 
L 1385.6272 263.0864 
L 1386.2424 267.1968 
L 1386.9 271.8 
L 1387.6064 276.9408 
L 1388.3392 282.4784 
L 1389.0888 288.3456 
L 1389.8456 294.4752 
L 1390.6 300.8 
L 1391.3648 307.496 
L 1392.1464 314.608 
L 1392.9256 321.872 
L 1393.6832 329.024 
L 1394.4 335.8 
L 1395.0584 342.0192 
L 1395.6712 347.8576 
L 1396.2648 353.5864 
L 1396.8656 359.4768 
L 1397.5 365.8 
L 1398.1584 372.3368 
L 1398.8232 378.9064 
L 1399.5088 385.8376 
L 1400.2296 393.4592 
L 1401 402.1 
L 1401.8536 412.08 
L 1402.7808 423.18 
L 1403.7312 434.92 
L 1404.6544 446.82 
L 1405.5 458.4 
L 1406.2696 469.444 
L 1406.9968 480.272 
L 1407.6792 491.208 
L 1408.3144 502.576 
L 1408.9 514.7 
L 1409.4344 528.332 
L 1409.9192 543.256 
L 1410.3568 558.344 
L 1410.7496 572.468 
L 1411.1 584.5 
L 1411.3904 593.904 
L 1411.6192 601.432 
L 1411.8128 607.888 
L 1411.9976 614.076 
L 1412.2 620.8 
" clip-path="url(#p7760dbe8b0)" style="fill: none; stroke: #000000; stroke-width: 6.666667; stroke-linecap: square"/>
   </g>
   <g id="line2d_74">
    <path d="M 1591.108723 117.809426 
L 1597.890872 116.958635 
L 1604.655943 116.351622 
L 1611.399309 115.984624 
L 1618.116347 115.85388 
L 1624.802431 115.955627 
L 1631.452937 116.286103 
L 1638.063239 116.841546 
L 1644.628712 117.618194 
L 1651.144732 118.612284 
L 1657.606673 119.820055 
L 1664.00991 121.237743 
L 1670.349819 122.861588 
L 1676.621775 124.687826 
L 1682.821152 126.712695 
L 1688.943326 128.932434 
L 1694.983671 131.34328 
L 1700.937563 133.941471 
L 1706.800377 136.723244 
L 1712.567487 139.684838 
L 1718.23427 142.822491 
L 1723.796098 146.132439 
L 1729.248349 149.610921 
L 1734.586397 153.254175 
L 1739.805616 157.058438 
L 1744.901383 161.019949 
L 1749.869071 165.134945 
L 1754.704056 169.399664 
L 1759.401714 173.810343 
L 1763.957418 178.363221 
L 1768.366544 183.054535 
L 1772.624468 187.880523 
L 1776.726563 192.837424 
L 1780.668206 197.921473 
L 1784.444771 203.128911 
L 1788.051633 208.455974 
L 1791.484168 213.898899 
L 1794.737749 219.453926 
L 1797.809425 225.116884 
L 1800.70515 230.881432 
L 1803.433841 236.740508 
L 1806.004412 242.68705 
L 1809.201289 250.739622 
L 1812.154052 258.91839 
L 1814.883836 267.206614 
L 1817.411776 275.587553 
L 1819.759008 284.044466 
L 1822.471124 294.69694 
L 1824.975138 305.409319 
L 1827.751248 318.310097 
L 1830.306212 331.249049 
L 1833.043899 346.379779 
L 1835.561045 361.533812 
L 1838.223311 378.861447 
L 1841.324169 400.500359 
L 1846.00992 434.988428 
L 1849.285843 460.764242 
L 1851.777592 482.225605 
L 1853.782169 501.552537 
L 1855.338113 518.759398 
L 1856.500024 533.848922 
L 1857.454199 548.980334 
L 1857.794452 555.480557 
L 1857.794452 555.480557 
" clip-path="url(#p7760dbe8b0)" style="fill: none; stroke: #000000; stroke-width: 6.666667; stroke-linecap: square"/>
   </g>
   <g id="patch_27">
    <path d="M 1557.3 250 
L 1557.3 267.7 
L 1565.6 267.7 
L 1565.6 250 
z
" clip-path="url(#p7760dbe8b0)"/>
   </g>
   <g id="patch_28">
    <path d="M 1575 210 
L 1575 230.4 
L 1579.6 230.4 
L 1579.6 210 
z
" clip-path="url(#p7760dbe8b0)"/>
   </g>
   <g id="patch_29">
    <path d="M 1590.8 210 
L 1590.8 286.3 
L 1594.5 286.3 
L 1594.5 210 
z
" clip-path="url(#p7760dbe8b0)"/>
   </g>
   <g id="line2d_75">
    <path d="M 1067.2 865.1 
L 1256.3 741.1 
L 1265.4032 741.564 
L 1274.8696 742.052 
L 1284.1544 742.528 
L 1292.7128 742.956 
L 1300 743.3 
L 1305.7648 743.4976 
L 1310.3704 743.5728 
L 1314.1936 743.6192 
L 1317.6112 743.7304 
L 1321 744 
L 1324.392 744.5 
L 1327.536 745.168 
L 1330.384 745.896 
L 1332.888 746.576 
L 1335 747.1 
L 1336.5264 747.3736 
L 1337.4992 747.4688 
L 1338.2088 747.5272 
L 1338.9456 747.6904 
L 1340 748.1 
L 1341.4472 748.812 
L 1343.0936 749.732 
L 1344.8264 750.776 
L 1346.5328 751.86 
L 1348.1 752.9 
L 1349.5568 754.0832 
L 1350.9784 755.4656 
L 1352.3216 756.7664 
L 1353.520262 757.7048 
L 1354.544 758 
L 1355.3656 757.2712 
L 1355.8688 755.7056 
L 1356.2992 753.8744 
L 1356.8464 752.3488 
L 1357.7 751.7 
L 1358.9416 752.096 
L 1360.4448 753.156 
L 1362.0872 754.628 
L 1363.7464 756.26 
L 1365.2664 757.8 
L 1366.561146 759.2112 
L 1367.832301 760.6616 
L 1369.066483 762.2064 
L 1370.25031 763.9008 
L 1371.3704 765.8 
L 1372.443622 767.9248 
L 1373.478899 770.2384 
L 1374.450925 772.7096 
L 1375.334394 775.3072 
L 1376.104 778 
L 1376.728486 780.7528 
L 1377.3464 783.5864 
L 1378.0936 786.5536 
L 1378.8272 789.7072 
L 1379.6 793.1 
L 1380.428 796.8136 
L 1381.276 800.8128 
L 1382.12 804.9752 
L 1382.936 809.1784 
L 1383.7 813.3 
L 1384.3896 817.1992 
L 1385.0208 820.9576 
L 1385.6272 824.7864 
L 1386.2424 828.8968 
L 1386.9 833.5 
L 1387.6064 838.6408 
L 1388.3392 844.1784 
L 1389.0888 850.0456 
L 1389.8456 856.1752 
L 1390.6 862.5 
L 1391.3648 869.196 
L 1392.1464 876.308 
L 1392.9256 883.572 
L 1393.6832 890.724 
L 1394.4 897.5 
L 1395.0584 903.7192 
L 1395.6712 909.5576 
L 1396.2648 915.2864 
L 1396.8656 921.1768 
L 1397.5 927.5 
L 1398.1584 934.0368 
L 1398.8232 940.6064 
L 1399.5088 947.5376 
L 1400.2296 955.1592 
L 1401 963.8 
L 1401.8536 973.78 
L 1402.7808 984.88 
L 1403.7312 996.62 
L 1404.6544 1008.52 
L 1405.5 1020.1 
L 1406.2696 1031.144 
L 1406.9968 1041.972 
L 1407.6792 1052.908 
L 1408.3144 1064.276 
L 1408.9 1076.4 
L 1409.4344 1090.032 
L 1409.9192 1104.956 
L 1410.3568 1120.044 
L 1410.7496 1134.168 
L 1411.1 1146.2 
L 1411.3904 1155.604 
L 1411.6192 1163.132 
L 1411.8128 1169.588 
L 1411.9976 1175.776 
L 1412.2 1182.5 
" clip-path="url(#pc0f8eb2423)" style="fill: none; stroke: #000000; stroke-width: 6.666667; stroke-linecap: square"/>
   </g>
   <g id="line2d_76">
    <path d="M 1591.908723 678.809426 
L 1598.690872 677.958635 
L 1605.455943 677.351622 
L 1612.199309 676.984624 
L 1618.916347 676.85388 
L 1625.602431 676.955627 
L 1632.252937 677.286103 
L 1638.863239 677.841546 
L 1645.428712 678.618194 
L 1651.944732 679.612284 
L 1658.406673 680.820055 
L 1664.80991 682.237743 
L 1671.149819 683.861588 
L 1677.421775 685.687826 
L 1683.621152 687.712695 
L 1689.743326 689.932434 
L 1695.783671 692.34328 
L 1701.737563 694.941471 
L 1707.600377 697.723244 
L 1713.367487 700.684838 
L 1719.03427 703.822491 
L 1724.596098 707.132439 
L 1730.048349 710.610921 
L 1735.386397 714.254175 
L 1740.605616 718.058438 
L 1745.701383 722.019949 
L 1750.669071 726.134945 
L 1755.504056 730.399664 
L 1760.201714 734.810343 
L 1764.757418 739.363221 
L 1769.166544 744.054535 
L 1773.424468 748.880523 
L 1777.526563 753.837424 
L 1781.468206 758.921473 
L 1785.244771 764.128911 
L 1788.851633 769.455974 
L 1792.284168 774.898899 
L 1795.537749 780.453926 
L 1798.609425 786.116884 
L 1801.50515 791.881432 
L 1804.233841 797.740508 
L 1806.804412 803.68705 
L 1810.001289 811.739622 
L 1812.954052 819.91839 
L 1815.683836 828.206614 
L 1818.211776 836.587553 
L 1820.559008 845.044466 
L 1823.271124 855.69694 
L 1825.775138 866.409319 
L 1828.551248 879.310097 
L 1831.106212 892.249049 
L 1833.843899 907.379779 
L 1836.361045 922.533812 
L 1839.023311 939.861447 
L 1842.124169 961.500359 
L 1846.80992 995.988428 
L 1850.085843 1021.764242 
L 1852.577592 1043.225605 
L 1854.158566 1058.255535 
L 1854.158566 1058.255535 
" clip-path="url(#pc0f8eb2423)" style="fill: none; stroke: #000000; stroke-width: 6.666667; stroke-linecap: square"/>
   </g>
   <g id="patch_30">
    <path d="M 1546.7 956.7 
L 1546.7 1181.7 
L 1556.2 1181.7 
L 1556.2 956.7 
z
" clip-path="url(#pc0f8eb2423)"/>
   </g>
   <g id="patch_31">
    <path d="M 1588.6 842.7 
L 1588.6 1181.7 
L 1590.9 1181.7 
L 1590.9 842.7 
z
" clip-path="url(#pc0f8eb2423)"/>
   </g>
   <g id="patch_32">
    <path d="M 1575 773.7 
L 1575 792.7 
L 1579 792.7 
L 1579 773.7 
z
" clip-path="url(#pc0f8eb2423)"/>
   </g>
   <g id="patch_33">
    <path d="M 1590.5 724.7 
L 1590.5 842.7 
L 1600 842.7 
L 1600 724.7 
z
" clip-path="url(#pc0f8eb2423)"/>
   </g>
   <g id="patch_34">
    <path d="M 1611.4 761.7 
L 1611.4 782 
L 1615.2 782 
L 1615.2 761.7 
z
" clip-path="url(#pc0f8eb2423)"/>
   </g>
   <g id="patch_35">
    <path d="M 1620 675.7 
L 1620 687.7 
L 1623 687.7 
L 1623 675.7 
z
" clip-path="url(#pc0f8eb2423)"/>
   </g>
   <g id="patch_36">
    <path d="M 1630 676.7 
L 1630 689.7 
L 1633 689.7 
L 1633 676.7 
z
" clip-path="url(#pc0f8eb2423)"/>
   </g>
   <g id="patch_37">
    <path d="M 1651 679.7 
L 1651 693.7 
L 1654 693.7 
L 1654 679.7 
z
" clip-path="url(#pc0f8eb2423)"/>
   </g>
   <g id="line2d_77">
    <path d="M 1070 868.6 
L 1256.3 741.6 
L 1265.0992 741.6896 
L 1273.9576 741.7888 
L 1282.7864 741.8832 
L 1291.4968 741.9584 
L 1300 742 
L 1308.3664 741.9872 
L 1316.6552 741.9296 
L 1324.7608 741.8584 
L 1332.5776 741.8048 
L 1340 741.8 
L 1347.0728 741.7944 
L 1353.8664 741.7672 
L 1360.3136 741.7928 
L 1366.3472 741.9456 
L 1371.9 742.3 
L 1376.9096 742.896 
L 1381.4208 743.684 
L 1385.5272 744.604 
L 1389.3224 745.596 
L 1392.9 746.6 
L 1396.2152 747.5936 
L 1399.2056 748.6168 
L 1401.9384 749.7032 
L 1404.4808 750.8864 
L 1406.9 752.2 
L 1409.1512 753.6632 
L 1411.1896 755.2536 
L 1413.0824 756.9424 
L 1414.8968 758.7008 
L 1416.7 760.5 
L 1418.4696 762.3864 
L 1420.1608 764.3792 
L 1421.8072 766.4088 
L 1423.4424 768.4056 
L 1425.1 770.3 
L 1426.7816 772.1816 
L 1428.4648 774.0968 
L 1430.1472 775.9112 
L 1431.8264 777.4904 
L 1433.5 778.7 
L 1435.1872 779.2936 
L 1436.8896 779.3608 
L 1438.5784 779.2712 
L 1440.2248 779.3944 
L 1441.8 780.1 
L 1443.328 781.4552 
L 1444.828 783.2136 
L 1446.264 785.2744 
L 1447.6 787.5368 
L 1448.8 789.9 
L 1449.8416 792.3192 
L 1450.7488 794.8616 
L 1451.5552 797.5944 
L 1452.2944 800.5848 
L 1453 803.9 
L 1453.6272 807.6536 
L 1454.1536 811.8008 
L 1454.6464 816.1712 
L 1455.1728 820.5944 
L 1455.8 824.9 
L 1456.5712 828.8736 
L 1457.4416 832.6288 
L 1458.3464 836.4872 
L 1459.2208 840.7704 
L 1460 845.8 
L 1460.6424 851.6656 
L 1461.1912 858.1528 
L 1461.7088 865.1272 
L 1462.2576 872.4544 
L 1462.9 880 
L 1463.6568 887.5512 
L 1464.4864 895.1976 
L 1465.3576 903.2584 
L 1466.2392 912.0528 
L 1467.1 921.9 
L 1467.94 933.136 
L 1468.78 945.548 
L 1469.62 958.632 
L 1470.46 971.884 
L 1471.3 984.8 
L 1472.1576 997.38 
L 1473.0328 1009.96 
L 1473.8992 1022.54 
L 1474.7304 1035.12 
L 1475.5 1047.7 
L 1476.2176 1060.656 
L 1476.9008 1073.988 
L 1477.5352 1087.132 
L 1478.1064 1099.524 
L 1478.6 1110.6 
L 1478.9952 1120.1072 
L 1479.3016 1128.4216 
L 1479.5504 1135.9224 
L 1479.7728 1142.9888 
L 1480 1150 
L 1480.2256 1156.8328 
L 1480.4288 1163.2344 
L 1480.6192 1169.3896 
L 1480.8064 1175.4832 
L 1481 1181.7 
" clip-path="url(#pc0f8eb2423)" style="fill: none; stroke: #00ff00; stroke-width: 6.666667; stroke-linecap: square"/>
   </g>
   <g id="line2d_78">
    <path d="M 1399.4384 752.7032 
L 1401.9808 753.8864 
L 1404.4 755.2 
L 1406.6512 756.6632 
L 1408.6896 758.2536 
L 1410.5824 759.9424 
L 1412.3968 761.7008 
L 1414.2 763.5 
L 1415.9696 765.3864 
L 1417.6608 767.3792 
L 1419.3072 769.4088 
L 1420.9424 771.4056 
L 1422.6 773.3 
L 1424.2816 775.1816 
L 1425.9648 777.0968 
L 1427.6472 778.9112 
L 1429.3264 780.4904 
L 1431 781.7 
L 1432.6872 782.2936 
L 1434.3896 782.3608 
L 1436.0784 782.2712 
L 1437.7248 782.3944 
L 1439.3 783.1 
L 1440.828 784.4552 
L 1442.328 786.2136 
L 1443.764 788.2744 
L 1445.1 790.5368 
L 1446.3 792.9 
L 1447.3416 795.3192 
L 1448.2488 797.8616 
L 1449.0552 800.5944 
L 1449.7944 803.5848 
L 1450.5 806.9 
L 1451.1272 810.6536 
L 1451.6536 814.8008 
L 1452.1464 819.1712 
L 1452.6728 823.5944 
L 1453.3 827.9 
L 1454.0712 831.8736 
L 1454.9416 835.6288 
L 1455.8464 839.4872 
L 1456.7208 843.7704 
L 1457.5 848.8 
L 1458.1424 854.6656 
L 1458.6912 861.1528 
L 1459.2088 868.1272 
L 1459.7576 875.4544 
L 1460.4 883 
L 1461.1568 890.5512 
L 1461.9864 898.1976 
L 1462.8576 906.2584 
L 1463.7392 915.0528 
L 1464.6 924.9 
L 1465.44 936.136 
L 1466.28 948.548 
L 1467.12 961.632 
L 1467.96 974.884 
L 1468.8 987.8 
L 1469.6576 1000.38 
L 1470.5328 1012.96 
L 1471.3992 1025.54 
L 1472.2304 1038.12 
L 1473 1050.7 
L 1473.7176 1063.656 
L 1474.4008 1076.988 
L 1475.0352 1090.132 
L 1475.6064 1102.524 
L 1476.1 1113.6 
L 1476.4952 1123.1072 
L 1476.8016 1131.4216 
L 1477.0504 1138.9224 
L 1477.2728 1145.9888 
L 1477.5 1153 
L 1477.7256 1159.8328 
L 1477.9288 1166.2344 
L 1478.1192 1172.3896 
L 1478.3064 1178.4832 
L 1478.5 1184.7 
" clip-path="url(#pc0f8eb2423)" style="fill: none; stroke: #00ff00; stroke-width: 6.666667; stroke-linecap: square"/>
   </g>
   <g id="line2d_79">
    <path d="M 1397.1 745.7 
L 1397.1 759.1 
" clip-path="url(#pc0f8eb2423)" style="fill: none; stroke: #00ff00; stroke-width: 6.666667; stroke-linecap: round"/>
   </g>
   <g id="line2d_80">
    <path d="M 1408.3 751.7 
L 1408.3 771.7 
" clip-path="url(#pc0f8eb2423)" style="fill: none; stroke: #00ff00; stroke-width: 6.666667; stroke-linecap: round"/>
   </g>
   <g id="line2d_81">
    <path d="M 1433.5 776.7 
L 1433.5 802.5 
" clip-path="url(#pc0f8eb2423)" style="fill: none; stroke: #00ff00; stroke-width: 6.666667; stroke-linecap: round"/>
   </g>
   <g id="line2d_82">
    <path d="M 1441.8 779.7 
L 1441.8 872.4 
" clip-path="url(#pc0f8eb2423)" style="fill: none; stroke: #00ff00; stroke-width: 6.666667; stroke-linecap: round"/>
   </g>
   <g id="line2d_83">
    <path d="M 1421 764.7 
L 1421 783.7 
" clip-path="url(#pc0f8eb2423)" style="fill: none; stroke: #00ff00; stroke-width: 6.666667; stroke-linecap: round"/>
   </g>
   <g id="line2d_84">
    <path d="M 1428 771.7 
L 1428 789.7 
" clip-path="url(#pc0f8eb2423)" style="fill: none; stroke: #00ff00; stroke-width: 6.666667; stroke-linecap: round"/>
   </g>
   <g id="line2d_85">
    <path d="M 1445.5 783.7 
L 1445.5 806.7 
" clip-path="url(#pc0f8eb2423)" style="fill: none; stroke: #00ff00; stroke-width: 6.666667; stroke-linecap: round"/>
   </g>
   <g id="line2d_86">
    <path d="M 1540 1181.7 
L 1540 1114.18 
L 1540 1043.14 
L 1540 973.86 
L 1540 911.62 
L 1540 861.7 
L 1539.992 826.308 
L 1539.976 801.924 
L 1539.964 785.236 
L 1539.968 772.932 
L 1540 761.7 
L 1540.052 752.724 
L 1540.116 748.212 
L 1540.204 746.388 
L 1540.328 745.476 
L 1540.5 743.7 
L 1540.68 741.204 
L 1540.86 739.172 
L 1541.1 737.388 
L 1541.46 735.636 
L 1542 733.7 
L 1542.712 731.628 
L 1543.556 729.564 
L 1544.544 727.436 
L 1545.688 725.172 
L 1547 722.7 
L 1548.4768 719.964 
L 1550.1104 717.012 
L 1551.9056 713.928 
L 1553.8672 710.796 
L 1556 707.7 
L 1558.3712 704.632 
L 1560.9776 701.536 
L 1563.7184 698.424 
L 1566.4928 695.308 
L 1569.2 692.2 
" clip-path="url(#pc0f8eb2423)" style="fill: none; stroke: #00ff00; stroke-width: 6.666667; stroke-linecap: square"/>
   </g>
   <g id="patch_38">
    <path d="M 1414 760.7 
L 1425.1 770.3 
L 1433.5 778.7 
L 1441.8 780.1 
L 1448.8 789.9 
L 1451 797.7 
L 1450 810.7 
L 1441 806.7 
L 1433 803.7 
L 1426 789.7 
L 1420 778.7 
L 1415 767.7 
z
" clip-path="url(#pc0f8eb2423)" style="fill: #00ff00"/>
   </g>
   <g id="patch_39">
    <path d="M 1538.6 620 
L 1540.992 266.108 
L 1540.976 241.724 
L 1540.964 225.036 
L 1540.968 212.732 
L 1541 201.5 
L 1541.052 192.524 
L 1541.116 188.012 
L 1541.204 186.188 
L 1541.328 185.276 
L 1541.5 183.5 
L 1541.696 180.988 
L 1541.908 178.924 
L 1542.172 177.116 
L 1542.524 175.372 
L 1543 173.5 
L 1543.56 171.58 
L 1544.18 169.74 
L 1544.92 167.86 
L 1545.84 165.82 
L 1547 163.5 
L 1548.4128 160.836 
L 1550.0384 157.908 
L 1551.8576 154.812 
L 1553.8512 151.644 
L 1556 148.5 
L 1558.3696 145.2312 
L 1560.9728 141.7736 
L 1563.7112 138.3504 
L 1566.4864 135.1848 
L 1569.2 132.5 
L 1571.9384 130.3184 
L 1574.7672 128.4912 
L 1577.5568 126.9848 
L 1580.1776 125.7656 
L 1582.5 124.8 
L 1584.5352 124.1856 
L 1586.3696 123.9448 
L 1587.9864 123.9312 
L 1589.3688 123.9984 
L 1590.5 124 
L 1591.284 123.9488 
L 1591.732 123.9424 
L 1591.988 123.9616 
L 1592.196 123.9872 
L 1592.5 124 
L 1592 160 
L 1592 200 
L 1544 200 
L 1544 620 
z
" clip-path="url(#p7760dbe8b0)" style="fill: #0000ff"/>
   </g>
   <g id="line2d_87">
    <path d="M 1070 311.5 
L 1256.3 180.2 
L 1263.765046 180.171296 
L 1271.448148 180.148148 
L 1279.13125 180.125 
L 1286.596296 180.096296 
L 1293.625231 180.056481 
L 1300 180 
L 1305.760417 179.908102 
L 1311.088889 179.781481 
L 1315.98125 179.64375 
L 1320.433333 179.518519 
L 1324.440972 179.429398 
L 1328 179.4 
L 1330.877315 179.437963 
L 1333.02963 179.525926 
L 1334.7375 179.65 
L 1336.281481 179.796296 
L 1337.94213 179.950926 
L 1340 180.1 
L 1342.48125 180.201852 
L 1345.166667 180.259259 
L 1347.96875 180.325 
L 1350.8 180.451852 
L 1353.572917 180.692593 
L 1356.2 181.1 
L 1358.717824 181.686111 
L 1361.203704 182.411111 
L 1363.63125 183.25 
L 1365.974074 184.177778 
L 1368.205787 185.169444 
L 1370.3 186.2 
L 1372.237963 187.253935 
L 1374.037037 188.348148 
L 1375.725 189.50625 
L 1377.32963 190.751852 
L 1378.878704 192.108565 
L 1380.4 193.6 
L 1381.877315 195.255787 
L 1383.285185 197.062963 
L 1384.6375 198.98125 
L 1385.948148 200.97037 
L 1387.231019 202.990046 
L 1388.5 205 
L 1389.741204 207.019676 
L 1390.940741 209.085185 
L 1392.1125 211.18125 
L 1393.27037 213.292593 
L 1394.428241 215.403935 
L 1395.6 217.5 
L 1396.6 240.7 
L 1405.7 240.7 
L 1408.7 260.9 
L 1409.7 294.2 
L 1414.7 294.2 
L 1416.8 300 
L 1419.5 322.5 
L 1421.2 345 
L 1421.5 360 
L 1421.5 413 
L 1426.5 415.5 
L 1429 430 
L 1433 446.5 
L 1437.5 447 
L 1437.5 620 
L 1442.5 620 
L 1443.5 420 
L 1445.4 369.5 
L 1447.5 372 
L 1448.5 380.5 
L 1451 381 
L 1452.5 400 
L 1454.8 416 
L 1457 430 
L 1460.3 456 
L 1462 470 
L 1464 480 
L 1466.8 498.1 
L 1469 515 
L 1471 525 
L 1473.6 547.6 
L 1476 620 
" clip-path="url(#p7760dbe8b0)" style="fill: none; stroke: #0000ff; stroke-width: 6.666667; stroke-linejoin: miter; stroke-linecap: square"/>
   </g>
   <g id="line2d_88">
    <path d="M 1386.8375 199.98125 
L 1388.148148 201.97037 
L 1389.431019 203.990046 
L 1390.7 206 
L 1391.941204 208.019676 
L 1393.140741 210.085185 
L 1394.3125 212.18125 
L 1395.47037 214.292593 
L 1396.628241 216.403935 
L 1397.8 218.5 
L 1398.8 241.7 
L 1407.9 241.7 
L 1410.9 261.9 
L 1411.9 295.2 
L 1416.9 295.2 
L 1419 301 
L 1421.7 323.5 
L 1423.4 346 
L 1423.7 361 
L 1423.7 414 
L 1428.7 416.5 
L 1431.2 431 
L 1435.2 447.5 
" clip-path="url(#p7760dbe8b0)" style="fill: none; stroke: #0000ff; stroke-width: 6.666667; stroke-linecap: square"/>
   </g>
   <g id="line2d_89">
    <path d="M 1450.1 374 
L 1451.1 382.5 
L 1453.6 383 
L 1455.1 402 
L 1457.4 418 
L 1459.6 432 
L 1462.9 458 
L 1464.6 472 
L 1466.6 482 
L 1469.4 500.1 
L 1471.6 517 
L 1473.6 527 
L 1476.2 549.6 
L 1478.6 622 
" clip-path="url(#p7760dbe8b0)" style="fill: none; stroke: #0000ff; stroke-width: 6.666667; stroke-linecap: square"/>
   </g>
   <g id="line2d_90">
    <path d="M 1398.5 218 
L 1400.5 241 
" clip-path="url(#p7760dbe8b0)" style="fill: none; stroke: #0000ff; stroke-width: 6.666667; stroke-linecap: square"/>
   </g>
   <g id="line2d_91">
    <path d="M 1411.5 262 
L 1412.5 294 
" clip-path="url(#p7760dbe8b0)" style="fill: none; stroke: #0000ff; stroke-width: 6.666667; stroke-linecap: square"/>
   </g>
   <g id="line2d_92">
    <path d="M 1423.5 346 
L 1424 414 
" clip-path="url(#p7760dbe8b0)" style="fill: none; stroke: #0000ff; stroke-width: 6.666667; stroke-linecap: square"/>
   </g>
   <g id="line2d_93">
    <path d="M 1434.5 447 
L 1435.5 620 
" clip-path="url(#p7760dbe8b0)" style="fill: none; stroke: #0000ff; stroke-width: 6.666667; stroke-linecap: square"/>
   </g>
   <g id="line2d_94">
    <path d="M 1439.8 450 
L 1440 620 
" clip-path="url(#p7760dbe8b0)" style="fill: none; stroke: #0000ff; stroke-width: 6.666667; stroke-linecap: square"/>
   </g>
   <g id="line2d_95">
    <path d="M 1462.5 470 
L 1466 620 
" clip-path="url(#p7760dbe8b0)" style="fill: none; stroke: #0000ff; stroke-width: 6.666667; stroke-linecap: square"/>
   </g>
   <g id="line2d_96">
    <path d="M 1467.5 500 
L 1470.5 620 
" clip-path="url(#p7760dbe8b0)" style="fill: none; stroke: #0000ff; stroke-width: 6.666667; stroke-linecap: square"/>
   </g>
   <g id="line2d_97">
    <path d="M 1458.5 440 
L 1461.5 470 
" clip-path="url(#p7760dbe8b0)" style="fill: none; stroke: #0000ff; stroke-width: 6.666667; stroke-linecap: square"/>
   </g>
   <g id="line2d_98">
    <path d="M 1541 620 
L 1541 552.48 
L 1541 481.44 
L 1541 412.16 
L 1541 349.92 
L 1541 300 
L 1540.992 264.608 
L 1540.976 240.224 
L 1540.964 223.536 
L 1540.968 211.232 
L 1541 200 
L 1541.052 191.024 
L 1541.116 186.512 
L 1541.204 184.688 
L 1541.328 183.776 
L 1541.5 182 
L 1541.696 179.488 
L 1541.908 177.424 
L 1542.172 175.616 
L 1542.524 173.872 
L 1543 172 
L 1543.56 170.08 
L 1544.18 168.24 
L 1544.92 166.36 
L 1545.84 164.32 
L 1547 162 
L 1548.4128 159.336 
L 1550.0384 156.408 
L 1551.8576 153.312 
L 1553.8512 150.144 
L 1556 147 
L 1558.3696 143.7312 
L 1560.9728 140.2736 
L 1563.7112 136.8504 
L 1566.4864 133.6848 
L 1569.2 131 
L 1571.9384 128.8184 
L 1574.7672 126.9912 
L 1577.5568 125.4848 
L 1580.1776 124.2656 
L 1582.5 123.3 
L 1584.5352 122.6856 
L 1586.3696 122.4448 
L 1587.9864 122.4312 
L 1589.3688 122.4984 
L 1590.5 122.5 
L 1591.284 122.4488 
L 1591.732 122.4424 
L 1591.988 122.4616 
L 1592.196 122.4872 
L 1592.5 122.5 
" clip-path="url(#p7760dbe8b0)" style="fill: none; stroke: #0000ff; stroke-width: 6.666667; stroke-linecap: square"/>
   </g>
   <g id="line2d_99">
    <path d="M 1739.634121 151.59232 
L 1744.419578 155.410198 
L 1749.031711 159.336706 
L 1753.47497 163.368607 
L 1757.753803 167.502663 
L 1761.872662 171.735639 
L 1766.803047 177.161032 
L 1771.499115 182.729607 
L 1775.969554 188.435042 
L 1780.223057 194.271015 
L 1784.268312 200.231204 
L 1788.114012 206.309287 
L 1791.768845 212.498943 
L 1795.241505 218.793848 
L 1798.540679 225.187682 
L 1802.282926 232.981967 
L 1805.802888 240.898681 
L 1809.115581 248.9269 
L 1812.236023 257.055699 
L 1815.653591 266.651846 
L 1818.853771 276.352679 
L 1821.860411 286.140849 
L 1825.090166 297.412024 
L 1828.494158 310.175469 
L 1831.669305 323.016468 
L 1834.626242 335.926776 
L 1837.375599 348.898153 
L 1840.199917 363.372392 
L 1842.795676 377.900542 
L 1845.177462 392.471296 
L 1847.567696 408.534838 
L 1849.736084 424.621202 
L 1851.871394 442.178308 
L 1853.942015 461.186284 
L 1855.925551 481.614418 
L 1857.811666 503.41895 
L 1859.711079 527.980106 
L 1861.906104 559.440224 
L 1861.906104 559.440224 
" clip-path="url(#p7760dbe8b0)" style="fill: none; stroke: #0000ff; stroke-width: 6.666667; stroke-linecap: square"/>
   </g>
   <g id="line2d_100">
    <path d="M 1070 869 
L 1256.3 741.9 
L 1263.765046 741.871296 
L 1271.448148 741.848148 
L 1279.13125 741.825 
L 1286.596296 741.796296 
L 1293.625231 741.756481 
L 1300 741.7 
L 1305.760417 741.608102 
L 1311.088889 741.481481 
L 1315.98125 741.34375 
L 1320.433333 741.218519 
L 1324.440972 741.129398 
L 1328 741.1 
L 1330.877315 741.137963 
L 1333.02963 741.225926 
L 1334.7375 741.35 
L 1336.281481 741.496296 
L 1337.94213 741.650926 
L 1340 741.8 
L 1342.48125 741.901852 
L 1345.166667 741.959259 
L 1347.96875 742.025 
L 1350.8 742.151852 
L 1353.572917 742.392593 
L 1356.2 742.8 
L 1358.717824 743.386111 
L 1361.203704 744.111111 
L 1363.63125 744.95 
L 1365.974074 745.877778 
L 1368.205787 746.869444 
L 1370.3 747.9 
L 1372.237963 748.953935 
L 1374.037037 750.048148 
L 1375.725 751.20625 
L 1377.32963 752.451852 
L 1378.878704 753.808565 
L 1380.4 755.3 
L 1381.877315 756.955787 
L 1383.285185 758.762963 
L 1384.6375 760.68125 
L 1385.948148 762.67037 
L 1387.231019 764.690046 
L 1388.5 766.7 
L 1389.741204 768.719676 
L 1390.940741 770.785185 
L 1392.1125 772.88125 
L 1393.27037 774.992593 
L 1394.428241 777.103935 
L 1395.6 779.2 
L 1396.6 802.4 
L 1405.7 802.4 
L 1408.7 822.6 
L 1409.7 855.9 
L 1414.7 855.9 
L 1416.8 861.7 
L 1419.5 884.2 
L 1421.2 906.7 
L 1421.5 921.7 
L 1421.5 974.7 
L 1426.5 977.2 
L 1429 991.7 
L 1433 1008.2 
L 1437.5 1008.7 
L 1437.5 1181.7 
L 1442.5 1181.7 
L 1443.5 981.7 
L 1445.4 931.2 
L 1447.5 933.7 
L 1448.5 942.2 
L 1451 942.7 
L 1452.5 961.7 
L 1454.8 977.7 
L 1457 991.7 
L 1460.3 1017.7 
L 1462 1031.7 
L 1464 1041.7 
L 1466.8 1059.8 
L 1469 1076.7 
L 1471 1086.7 
L 1473.6 1109.3 
L 1476 1181.7 
" clip-path="url(#pc0f8eb2423)" style="fill: none; stroke: #0000ff; stroke-width: 6.666667; stroke-linejoin: miter; stroke-linecap: square"/>
   </g>
   <g id="line2d_101">
    <path d="M 1386.8375 761.68125 
L 1388.148148 763.67037 
L 1389.431019 765.690046 
L 1390.7 767.7 
L 1391.941204 769.719676 
L 1393.140741 771.785185 
L 1394.3125 773.88125 
L 1395.47037 775.992593 
L 1396.628241 778.103935 
L 1397.8 780.2 
L 1398.8 803.4 
L 1407.9 803.4 
L 1410.9 823.6 
L 1411.9 856.9 
L 1416.9 856.9 
L 1419 862.7 
L 1421.7 885.2 
L 1423.4 907.7 
L 1423.7 922.7 
L 1423.7 975.7 
L 1428.7 978.2 
L 1431.2 992.7 
L 1435.2 1009.2 
" clip-path="url(#pc0f8eb2423)" style="fill: none; stroke: #0000ff; stroke-width: 6.666667; stroke-linecap: square"/>
   </g>
   <g id="line2d_102">
    <path d="M 1450.1 935.7 
L 1451.1 944.2 
L 1453.6 944.7 
L 1455.1 963.7 
L 1457.4 979.7 
L 1459.6 993.7 
L 1462.9 1019.7 
L 1464.6 1033.7 
L 1466.6 1043.7 
L 1469.4 1061.8 
L 1471.6 1078.7 
L 1473.6 1088.7 
L 1476.2 1111.3 
L 1478.6 1183.7 
" clip-path="url(#pc0f8eb2423)" style="fill: none; stroke: #0000ff; stroke-width: 6.666667; stroke-linecap: square"/>
   </g>
   <g id="line2d_103">
    <path d="M 1398.5 779.7 
L 1400.5 802.7 
" clip-path="url(#pc0f8eb2423)" style="fill: none; stroke: #0000ff; stroke-width: 6.666667; stroke-linecap: square"/>
   </g>
   <g id="line2d_104">
    <path d="M 1411.5 823.7 
L 1412.5 855.7 
" clip-path="url(#pc0f8eb2423)" style="fill: none; stroke: #0000ff; stroke-width: 6.666667; stroke-linecap: square"/>
   </g>
   <g id="line2d_105">
    <path d="M 1423.5 907.7 
L 1424 975.7 
" clip-path="url(#pc0f8eb2423)" style="fill: none; stroke: #0000ff; stroke-width: 6.666667; stroke-linecap: square"/>
   </g>
   <g id="line2d_106">
    <path d="M 1434.5 1008.7 
L 1435.5 1181.7 
" clip-path="url(#pc0f8eb2423)" style="fill: none; stroke: #0000ff; stroke-width: 6.666667; stroke-linecap: square"/>
   </g>
   <g id="line2d_107">
    <path d="M 1439.8 1011.7 
L 1440 1181.7 
" clip-path="url(#pc0f8eb2423)" style="fill: none; stroke: #0000ff; stroke-width: 6.666667; stroke-linecap: square"/>
   </g>
   <g id="line2d_108">
    <path d="M 1462.5 1031.7 
L 1466 1181.7 
" clip-path="url(#pc0f8eb2423)" style="fill: none; stroke: #0000ff; stroke-width: 6.666667; stroke-linecap: square"/>
   </g>
   <g id="line2d_109">
    <path d="M 1467.5 1061.7 
L 1470.5 1181.7 
" clip-path="url(#pc0f8eb2423)" style="fill: none; stroke: #0000ff; stroke-width: 6.666667; stroke-linecap: square"/>
   </g>
   <g id="line2d_110">
    <path d="M 1458.5 1001.7 
L 1461.5 1031.7 
" clip-path="url(#pc0f8eb2423)" style="fill: none; stroke: #0000ff; stroke-width: 6.666667; stroke-linecap: square"/>
   </g>
   <g id="line2d_111">
    <path d="M 1541 1181.7 
L 1541 1114.18 
L 1541 1043.14 
L 1541 973.86 
L 1541 911.62 
L 1541 861.7 
L 1540.992 826.308 
L 1540.976 801.924 
L 1540.964 785.236 
L 1540.968 772.932 
L 1541 761.7 
L 1541.052 752.724 
L 1541.116 748.212 
L 1541.204 746.388 
L 1541.328 745.476 
L 1541.5 743.7 
L 1541.696 741.188 
L 1541.908 739.124 
L 1542.172 737.316 
L 1542.524 735.572 
L 1543 733.7 
L 1543.56 731.78 
L 1544.18 729.94 
L 1544.92 728.06 
L 1545.84 726.02 
L 1547 723.7 
L 1548.4128 721.036 
L 1550.0384 718.108 
L 1551.8576 715.012 
L 1553.8512 711.844 
L 1556 708.7 
L 1558.3712 705.564 
L 1560.9776 702.372 
L 1563.7184 699.148 
L 1566.4928 695.916 
L 1569.2 692.7 
" clip-path="url(#pc0f8eb2423)" style="fill: none; stroke: #0000ff; stroke-width: 6.666667; stroke-linecap: square"/>
   </g>
   <g id="line2d_112">
    <path d="M 1070 306.9 
L 1256.3 179.7 
L 1265.4032 179.9264 
L 1274.8696 180.1592 
L 1284.1544 180.3888 
L 1292.7128 180.6056 
L 1300 180.8 
L 1305.7648 180.9272 
L 1310.3704 180.9936 
L 1314.1936 181.0664 
L 1317.6112 181.2128 
L 1321 181.5 
L 1324.392 182 
L 1327.536 182.668 
L 1330.384 183.396 
L 1332.888 184.076 
L 1335 184.6 
L 1336.5264 184.8736 
L 1337.4992 184.9688 
L 1338.2088 185.0272 
L 1338.9456 185.1904 
L 1340 185.6 
L 1341.4472 186.312 
L 1343.0936 187.232 
L 1344.8264 188.276 
L 1346.5328 189.36 
L 1348.1 190.4 
L 1349.5568 191.5832 
L 1350.9784 192.9656 
L 1352.3216 194.2664 
L 1353.5432 195.2048 
L 1354.6 195.5 
L 1355.3656 194.7712 
L 1355.8688 193.2056 
L 1356.2992 191.3744 
L 1356.8464 189.8488 
L 1357.7 189.2 
L 1358.9416 189.596 
L 1360.4448 190.656 
L 1362.0872 192.128 
L 1363.7464 193.76 
L 1365.3 195.3 
L 1366.7528 196.7112 
L 1368.1864 198.1616 
L 1369.5936 199.7064 
L 1370.9672 201.4008 
L 1372.3 203.3 
L 1373.6112 205.4248 
L 1374.9056 207.7384 
L 1376.1544 210.2096 
L 1377.3288 212.8072 
L 1378.4 215.5 
L 1379.3328 218.2528 
L 1380.1464 221.0864 
L 1380.8936 224.0536 
L 1381.6272 227.2072 
L 1382.4 230.6 
L 1383.228 234.3136 
L 1384.076 238.3128 
L 1384.92 242.4752 
L 1385.736 246.6784 
L 1386.5 250.8 
L 1387.1896 254.6992 
L 1387.8208 258.4576 
L 1388.4272 262.2864 
L 1389.0424 266.3968 
L 1389.7 271 
L 1390.4064 276.1408 
L 1391.1392 281.6784 
L 1391.8888 287.5456 
L 1392.6456 293.6752 
L 1393.4 300 
L 1394.1648 306.696 
L 1394.9464 313.808 
L 1395.7256 321.072 
L 1396.4832 328.224 
L 1397.2 335 
L 1397.8584 341.2192 
L 1398.4712 347.0576 
L 1399.0648 352.7864 
L 1399.6656 358.6768 
L 1400.3 365 
L 1400.9584 371.5368 
L 1401.6232 378.1064 
L 1402.3088 385.0376 
L 1403.0296 392.6592 
L 1403.8 401.3 
L 1404.6536 411.28 
L 1405.5808 422.38 
L 1406.5312 434.12 
L 1407.4544 446.02 
L 1408.3 457.6 
L 1409.0696 468.644 
L 1409.7968 479.472 
L 1410.4792 490.408 
L 1411.1144 501.776 
L 1411.7 513.9 
L 1412.2344 527.532 
L 1412.7192 542.456 
L 1413.1568 557.544 
L 1413.5496 571.668 
L 1413.9 583.7 
L 1414.1904 593.104 
L 1414.4192 600.632 
L 1414.6128 607.088 
L 1414.7976 613.276 
L 1415 620 
" clip-path="url(#p7760dbe8b0)" style="fill: none; stroke: #ff0000; stroke-width: 6.666667; stroke-linejoin: miter; stroke-linecap: square"/>
   </g>
   <g id="line2d_113">
    <path d="M 1591.108723 116.809426 
L 1597.890872 115.958635 
L 1604.655943 115.351622 
L 1611.399309 114.984624 
L 1618.116347 114.85388 
L 1624.802431 114.955627 
L 1631.452937 115.286103 
L 1638.063239 115.841546 
L 1644.628712 116.618194 
L 1651.144732 117.612284 
L 1657.606673 118.820055 
L 1664.00991 120.237743 
L 1670.349819 121.861588 
L 1676.621775 123.687826 
L 1682.821152 125.712695 
L 1688.943326 127.932434 
L 1694.983671 130.34328 
L 1700.937563 132.941471 
L 1706.800377 135.723244 
L 1712.567487 138.684838 
L 1718.23427 141.822491 
L 1723.796098 145.132439 
L 1729.248349 148.610921 
L 1734.586397 152.254175 
L 1739.805616 156.058438 
L 1744.901383 160.019949 
L 1749.869071 164.134945 
L 1754.704056 168.399664 
L 1759.401714 172.810343 
L 1763.957418 177.363221 
L 1768.366544 182.054535 
L 1772.624468 186.880523 
L 1776.726563 191.837424 
L 1780.668206 196.921473 
L 1784.444771 202.128911 
L 1788.051633 207.455974 
L 1791.484168 212.898899 
L 1794.737749 218.453926 
L 1797.809425 224.116884 
L 1800.70515 229.881432 
L 1803.433841 235.740508 
L 1806.004412 241.68705 
L 1809.201289 249.739622 
L 1812.154052 257.91839 
L 1814.883836 266.206614 
L 1817.411776 274.587553 
L 1819.759008 283.044466 
L 1822.471124 293.69694 
L 1824.975138 304.409319 
L 1827.751248 317.310097 
L 1830.306212 330.249049 
L 1833.043899 345.379779 
L 1835.561045 360.533812 
L 1838.223311 377.861447 
L 1841.324169 399.500359 
L 1846.00992 433.988428 
L 1849.285843 459.764242 
L 1851.777592 481.225605 
L 1853.782169 500.552537 
L 1855.338113 517.759398 
L 1856.500024 532.848922 
L 1857.454199 547.980334 
L 1857.794452 554.480557 
L 1857.794452 554.480557 
" clip-path="url(#p7760dbe8b0)" style="fill: none; stroke: #ff0000; stroke-width: 6.666667; stroke-linecap: square"/>
   </g>
   <g id="patch_40">
    <path d="M 1543.5 171 
L 1544.3232 170.112 
L 1545.0696 169.336 
L 1545.8544 168.504 
L 1546.7928 167.448 
L 1548 166 
L 1549.5624 163.984 
L 1551.4032 161.512 
L 1553.3928 158.848 
L 1555.4016 156.256 
L 1557.3 154 
L 1559.0896 152.1104 
L 1560.8568 150.4112 
L 1562.5992 148.8568 
L 1564.3144 147.4016 
L 1566 146 
L 1567.6768 144.5608 
L 1569.3464 143.1144 
L 1570.9776 141.7976 
L 1572.5392 140.7472 
L 1574 140.1 
L 1575.3408 139.9376 
L 1576.5824 140.1688 
L 1577.7536 140.6712 
L 1578.8832 141.3224 
L 1580 142 
L 1581.0848 142.7024 
L 1582.1184 143.5112 
L 1583.1296 144.4288 
L 1584.1472 145.4576 
L 1585.2 146.6 
L 1586.2944 147.9008 
L 1587.4112 149.3584 
L 1588.5408 150.9056 
L 1589.6736 152.4752 
L 1590.8 154 
L 1591.5 154 
L 1591.5 115 
L 1600 113.5 
L 1600.5 245 
L 1595 245 
L 1595 226 
L 1590 226 
L 1590 620 
L 1581.5 620 
L 1581.5 213 
L 1576 213 
L 1576 620 
L 1566.5 620 
L 1566.5 252 
L 1557.3 252 
L 1557.3 620 
L 1543.5 620 
z
" clip-path="url(#p7760dbe8b0)" style="fill: #ff0000"/>
   </g>
   <g id="line2d_114">
    <path d="M 1613.6 112 
L 1613.6 219 
" clip-path="url(#p7760dbe8b0)" style="fill: none; stroke: #ff0000; stroke-width: 6.666667; stroke-linecap: round"/>
   </g>
   <g id="line2d_115">
    <path d="M 1603.6 112 
L 1603.6 147 
" clip-path="url(#p7760dbe8b0)" style="fill: none; stroke: #ff0000; stroke-width: 6.666667; stroke-linecap: round"/>
   </g>
   <g id="line2d_116">
    <path d="M 1598.5 112 
L 1598.5 190 
" clip-path="url(#p7760dbe8b0)" style="fill: none; stroke: #ff0000; stroke-width: 6.666667; stroke-linecap: round"/>
   </g>
   <g id="line2d_117">
    <path d="M 1618 114.854794 
L 1618 121.854794 
" clip-path="url(#p7760dbe8b0)" style="fill: none; stroke: #ff0000; stroke-width: 6.666667; stroke-linecap: round"/>
   </g>
   <g id="line2d_118">
    <path d="M 1621 114.872074 
L 1621 119.872074 
" clip-path="url(#p7760dbe8b0)" style="fill: none; stroke: #ff0000; stroke-width: 6.666667; stroke-linecap: round"/>
   </g>
   <g id="line2d_119">
    <path d="M 1627 115.039661 
L 1627 121.039661 
" clip-path="url(#p7760dbe8b0)" style="fill: none; stroke: #ff0000; stroke-width: 6.666667; stroke-linecap: round"/>
   </g>
   <g id="line2d_120">
    <path d="M 1633 115.398439 
L 1633 124.398439 
" clip-path="url(#p7760dbe8b0)" style="fill: none; stroke: #ff0000; stroke-width: 6.666667; stroke-linecap: round"/>
   </g>
   <g id="line2d_121">
    <path d="M 1640 116.048572 
L 1640 123.048572 
" clip-path="url(#p7760dbe8b0)" style="fill: none; stroke: #ff0000; stroke-width: 6.666667; stroke-linecap: round"/>
   </g>
   <g id="line2d_122">
    <path d="M 1646 116.811753 
L 1646 122.811753 
" clip-path="url(#p7760dbe8b0)" style="fill: none; stroke: #ff0000; stroke-width: 6.666667; stroke-linecap: round"/>
   </g>
   <g id="line2d_123">
    <path d="M 1652 117.76235 
L 1652 127.76235 
" clip-path="url(#p7760dbe8b0)" style="fill: none; stroke: #ff0000; stroke-width: 6.666667; stroke-linecap: round"/>
   </g>
   <g id="line2d_124">
    <path d="M 1661 119.54673 
L 1661 128.54673 
" clip-path="url(#p7760dbe8b0)" style="fill: none; stroke: #ff0000; stroke-width: 6.666667; stroke-linecap: round"/>
   </g>
   <g id="line2d_125">
    <path d="M 1666 120.724397 
L 1666 126.724397 
" clip-path="url(#p7760dbe8b0)" style="fill: none; stroke: #ff0000; stroke-width: 6.666667; stroke-linecap: round"/>
   </g>
   <g id="line2d_126">
    <path d="M 1683 125.775389 
L 1683 137.775389 
" clip-path="url(#p7760dbe8b0)" style="fill: none; stroke: #ff0000; stroke-width: 6.666667; stroke-linecap: round"/>
   </g>
   <g id="line2d_127">
    <path d="M 1689 127.95436 
L 1689 143.95436 
" clip-path="url(#p7760dbe8b0)" style="fill: none; stroke: #ff0000; stroke-width: 6.666667; stroke-linecap: round"/>
   </g>
   <g id="line2d_128">
    <path d="M 1697 131.198255 
L 1697 140.198255 
" clip-path="url(#p7760dbe8b0)" style="fill: none; stroke: #ff0000; stroke-width: 6.666667; stroke-linecap: round"/>
   </g>
   <g id="line2d_129">
    <path d="M 1704 134.369417 
L 1704 142.369417 
" clip-path="url(#p7760dbe8b0)" style="fill: none; stroke: #ff0000; stroke-width: 6.666667; stroke-linecap: round"/>
   </g>
   <g id="line2d_130">
    <path d="M 1712 138.385888 
L 1712 147.385888 
" clip-path="url(#p7760dbe8b0)" style="fill: none; stroke: #ff0000; stroke-width: 6.666667; stroke-linecap: round"/>
   </g>
   <g id="line2d_131">
    <path d="M 1722 144.038174 
L 1722 155.038174 
" clip-path="url(#p7760dbe8b0)" style="fill: none; stroke: #ff0000; stroke-width: 6.666667; stroke-linecap: round"/>
   </g>
   <g id="line2d_132">
    <path d="M 1738 154.714844 
L 1738 163.714844 
" clip-path="url(#p7760dbe8b0)" style="fill: none; stroke: #ff0000; stroke-width: 6.666667; stroke-linecap: round"/>
   </g>
   <g id="line2d_133">
    <path d="M 1750 164.248044 
L 1750 172.248044 
" clip-path="url(#p7760dbe8b0)" style="fill: none; stroke: #ff0000; stroke-width: 6.666667; stroke-linecap: round"/>
   </g>
   <g id="line2d_134">
    <path d="M 1766 179.503757 
L 1766 191.503757 
" clip-path="url(#p7760dbe8b0)" style="fill: none; stroke: #ff0000; stroke-width: 6.666667; stroke-linecap: round"/>
   </g>
   <g id="line2d_135">
    <path d="M 1778 193.444344 
L 1778 200.444344 
" clip-path="url(#p7760dbe8b0)" style="fill: none; stroke: #ff0000; stroke-width: 6.666667; stroke-linecap: round"/>
   </g>
   <g id="line2d_136">
    <path d="M 1790 210.501679 
L 1790 219.501679 
" clip-path="url(#p7760dbe8b0)" style="fill: none; stroke: #ff0000; stroke-width: 6.666667; stroke-linecap: round"/>
   </g>
   <g id="line2d_137">
    <path d="M 1800 228.44141 
L 1800 234.44141 
" clip-path="url(#p7760dbe8b0)" style="fill: none; stroke: #ff0000; stroke-width: 6.666667; stroke-linecap: round"/>
   </g>
   <g id="line2d_138">
    <path d="M 1814 263.445952 
L 1814 270.445952 
" clip-path="url(#p7760dbe8b0)" style="fill: none; stroke: #ff0000; stroke-width: 6.666667; stroke-linecap: round"/>
   </g>
   <g id="line2d_139">
    <path d="M 1826 309.042726 
L 1826 317.042726 
" clip-path="url(#p7760dbe8b0)" style="fill: none; stroke: #ff0000; stroke-width: 6.666667; stroke-linecap: round"/>
   </g>
   <g id="line2d_140">
    <path d="M 1070 872.9 
L 1256.3 741.7 
L 1265.4032 741.8616 
L 1274.8696 742.0248 
L 1284.1544 742.1872 
L 1292.7128 742.3464 
L 1300 742.5 
L 1305.7648 742.608 
L 1310.3704 742.672 
L 1314.1936 742.752 
L 1317.6112 742.908 
L 1321 743.2 
L 1324.392 743.7 
L 1327.536 744.368 
L 1330.384 745.096 
L 1332.888 745.776 
L 1335 746.3 
L 1336.5264 746.5736 
L 1337.4992 746.6688 
L 1338.2088 746.7272 
L 1338.9456 746.8904 
L 1340 747.3 
L 1341.4472 748.012 
L 1343.0936 748.932 
L 1344.8264 749.976 
L 1346.5328 751.06 
L 1348.1 752.1 
L 1349.5568 753.2832 
L 1350.9784 754.6656 
L 1352.3216 755.9664 
L 1353.5432 756.9048 
L 1354.6 757.2 
L 1355.3656 756.4712 
L 1355.8688 754.9056 
L 1356.2992 753.0744 
L 1356.8464 751.5488 
L 1357.7 750.9 
L 1358.9416 751.296 
L 1360.4448 752.356 
L 1362.0872 753.828 
L 1363.7464 755.46 
L 1365.3 757 
L 1366.7528 758.4112 
L 1368.1864 759.8616 
L 1369.5936 761.4064 
L 1370.9672 763.1008 
L 1372.3 765 
L 1373.6112 767.1248 
L 1374.9056 769.4384 
L 1376.1544 771.9096 
L 1377.3288 774.5072 
L 1378.4 777.2 
L 1379.3328 779.9528 
L 1380.1464 782.7864 
L 1380.8936 785.7536 
L 1381.6272 788.9072 
L 1382.4 792.3 
L 1383.228 796.0136 
L 1384.076 800.0128 
L 1384.92 804.1752 
L 1385.736 808.3784 
L 1386.5 812.5 
L 1387.1896 816.3992 
L 1387.8208 820.1576 
L 1388.4272 823.9864 
L 1389.0424 828.0968 
L 1389.7 832.7 
L 1390.4064 837.8408 
L 1391.1392 843.3784 
L 1391.8888 849.2456 
L 1392.6456 855.3752 
L 1393.4 861.7 
L 1394.1648 868.396 
L 1394.9464 875.508 
L 1395.7256 882.772 
L 1396.4832 889.924 
L 1397.2 896.7 
L 1397.8584 902.9192 
L 1398.4712 908.7576 
L 1399.0648 914.4864 
L 1399.6656 920.3768 
L 1400.3 926.7 
L 1400.9584 933.2368 
L 1401.6232 939.8064 
L 1402.3088 946.7376 
L 1403.0296 954.3592 
L 1403.8 963 
L 1404.6536 972.98 
L 1405.5808 984.08 
L 1406.5312 995.82 
L 1407.4544 1007.72 
L 1408.3 1019.3 
L 1409.0696 1030.344 
L 1409.7968 1041.172 
L 1410.4792 1052.108 
L 1411.1144 1063.476 
L 1411.7 1075.6 
L 1412.2344 1089.232 
L 1412.7192 1104.156 
L 1413.1568 1119.244 
L 1413.5496 1133.368 
L 1413.9 1145.4 
L 1414.1904 1154.804 
L 1414.4192 1162.332 
L 1414.6128 1168.788 
L 1414.7976 1174.976 
L 1415 1181.7 
" clip-path="url(#pc0f8eb2423)" style="fill: none; stroke: #ffd700; stroke-width: 6.666667; stroke-linejoin: miter; stroke-linecap: square"/>
   </g>
   <g id="line2d_141">
    <path d="M 1591.908723 678.509426 
L 1598.690872 677.658635 
L 1605.455943 677.051622 
L 1612.199309 676.684624 
L 1618.916347 676.55388 
L 1625.602431 676.655627 
L 1632.252937 676.986103 
L 1638.863239 677.541546 
L 1645.428712 678.318194 
L 1651.944732 679.312284 
L 1658.406673 680.520055 
L 1664.80991 681.937743 
L 1671.149819 683.561588 
L 1677.421775 685.387826 
L 1683.621152 687.412695 
L 1689.743326 689.632434 
L 1695.783671 692.04328 
L 1701.737563 694.641471 
L 1707.600377 697.423244 
L 1713.367487 700.384838 
L 1719.03427 703.522491 
L 1724.596098 706.832439 
L 1730.048349 710.310921 
L 1735.386397 713.954175 
L 1740.605616 717.758438 
L 1745.701383 721.719949 
L 1750.669071 725.834945 
L 1755.504056 730.099664 
L 1760.201714 734.510343 
L 1764.757418 739.063221 
L 1769.166544 743.754535 
L 1773.424468 748.580523 
L 1777.526563 753.537424 
L 1781.468206 758.621473 
L 1785.244771 763.828911 
L 1788.851633 769.155974 
L 1792.284168 774.598899 
L 1795.537749 780.153926 
L 1798.609425 785.816884 
L 1801.50515 791.581432 
L 1804.233841 797.440508 
L 1806.804412 803.38705 
L 1810.001289 811.439622 
L 1812.954052 819.61839 
L 1815.683836 827.906614 
L 1818.211776 836.287553 
L 1820.559008 844.744466 
L 1823.271124 855.39694 
L 1825.775138 866.109319 
L 1828.551248 879.010097 
L 1831.106212 891.949049 
L 1833.843899 907.079779 
L 1836.361045 922.233812 
L 1839.023311 939.561447 
L 1842.124169 961.200359 
L 1846.80992 995.688428 
L 1850.085843 1021.464242 
L 1852.577592 1042.925605 
L 1854.158566 1057.955535 
L 1854.158566 1057.955535 
" clip-path="url(#pc0f8eb2423)" style="fill: none; stroke: #ffd700; stroke-width: 6.666667; stroke-linecap: square"/>
   </g>
   <g id="patch_41">
    <path d="M 1538.3 751.7 
L 1538.5048 748.6504 
L 1538.6744 745.5512 
L 1538.8616 742.4768 
L 1539.1192 739.5016 
L 1539.5 736.7 
L 1539.852 734.2976 
L 1540.14 732.2448 
L 1540.592 730.2032 
L 1541.436 727.8344 
L 1542.9 724.8 
L 1545.1072 720.7704 
L 1547.9056 715.9712 
L 1551.1104 710.8968 
L 1554.5368 706.0416 
L 1558 701.9 
L 1561.564 698.5664 
L 1565.352 695.7112 
L 1569.268 693.1928 
L 1573.216 690.8696 
L 1577.1 688.6 
L 1580.8608 686.3504 
L 1584.5624 684.2152 
L 1588.2936 682.2448 
L 1592.1432 680.4896 
L 1596.2 679 
L 1600.5232 677.8688 
L 1605.0536 677.0624 
L 1609.7024 676.4416 
L 1614.3808 675.8672 
L 1619 675.2 
L 1619 679.7 
L 1611 683.7 
L 1611 721.7 
L 1600 724.7 
L 1590.5 724.7 
L 1590.5 851.7 
L 1587.8 851.7 
L 1587.8 1181.7 
L 1580.2 1181.7 
L 1580.2 833.7 
L 1577 833.7 
L 1577 853.7 
L 1573.3 853.7 
L 1573.3 1181.7 
L 1565.7 1181.7 
L 1565.7 843.7 
L 1562 843.7 
L 1562 863.7 
L 1558 863.7 
L 1558 1002.7 
L 1548.6 1002.7 
L 1548.6 1181.7 
L 1538.3 1181.7 
z
" clip-path="url(#pc0f8eb2423)" style="fill: #ffd700"/>
   </g>
   <g id="line2d_142">
    <path d="M 1613.3 674.7 
L 1613.3 770.5 
" clip-path="url(#pc0f8eb2423)" style="fill: none; stroke: #ffd700; stroke-width: 6.666667; stroke-linecap: round"/>
   </g>
   <g id="line2d_143">
    <path d="M 1640 677.588233 
L 1640 681.588233 
" clip-path="url(#pc0f8eb2423)" style="fill: none; stroke: #ffd700; stroke-width: 6.666667; stroke-linecap: round"/>
   </g>
   <g id="line2d_144">
    <path d="M 1660 680.707562 
L 1660 685.707562 
" clip-path="url(#pc0f8eb2423)" style="fill: none; stroke: #ffd700; stroke-width: 6.666667; stroke-linecap: round"/>
   </g>
   <g id="line2d_145">
    <path d="M 1700 693.552849 
L 1700 697.552849 
" clip-path="url(#pc0f8eb2423)" style="fill: none; stroke: #ffd700; stroke-width: 6.666667; stroke-linecap: round"/>
   </g>
   <g id="patch_42">
    <path d="M 1572.5 268 
L 1572.5 312.4 
L 1575.5 312.4 
L 1575.5 268 
z
" clip-path="url(#p7760dbe8b0)"/>
   </g>
   <g id="line2d_146">
    <path d="M 717.5 1147.2 
L 717.5 585.3 
" clip-path="url(#pe2dc18fa2c)" style="fill: none; stroke-dasharray: 23.125,10; stroke-dashoffset: 0; stroke: #0000ff; stroke-width: 6.25"/>
   </g>
   <g id="line2d_147">
    <path d="M 837.8 1147.2 
L 837.8 585.3 
" clip-path="url(#pe2dc18fa2c)" style="fill: none; stroke-dasharray: 23.125,10; stroke-dashoffset: 0; stroke: #ff0000; stroke-width: 6.25"/>
   </g>
  </g>
 </g>
 <defs>
  <clipPath id="p86c49984c7">
   <rect x="0" y="0" width="2021" height="1287"/>
  </clipPath>
  <clipPath id="pf287960431">
   <rect x="183.75" y="23.6" width="785.15" height="561.7"/>
  </clipPath>
  <clipPath id="pe2dc18fa2c">
   <rect x="183.75" y="585.3" width="785.15" height="561.9"/>
  </clipPath>
  <clipPath id="p7760dbe8b0">
   <rect x="1073.9" y="23.6" width="785.1" height="561.7"/>
  </clipPath>
  <clipPath id="pc0f8eb2423">
   <rect x="1073.9" y="585.3" width="785.1" height="561.9"/>
  </clipPath>
 </defs>
</svg>

</body></html>
